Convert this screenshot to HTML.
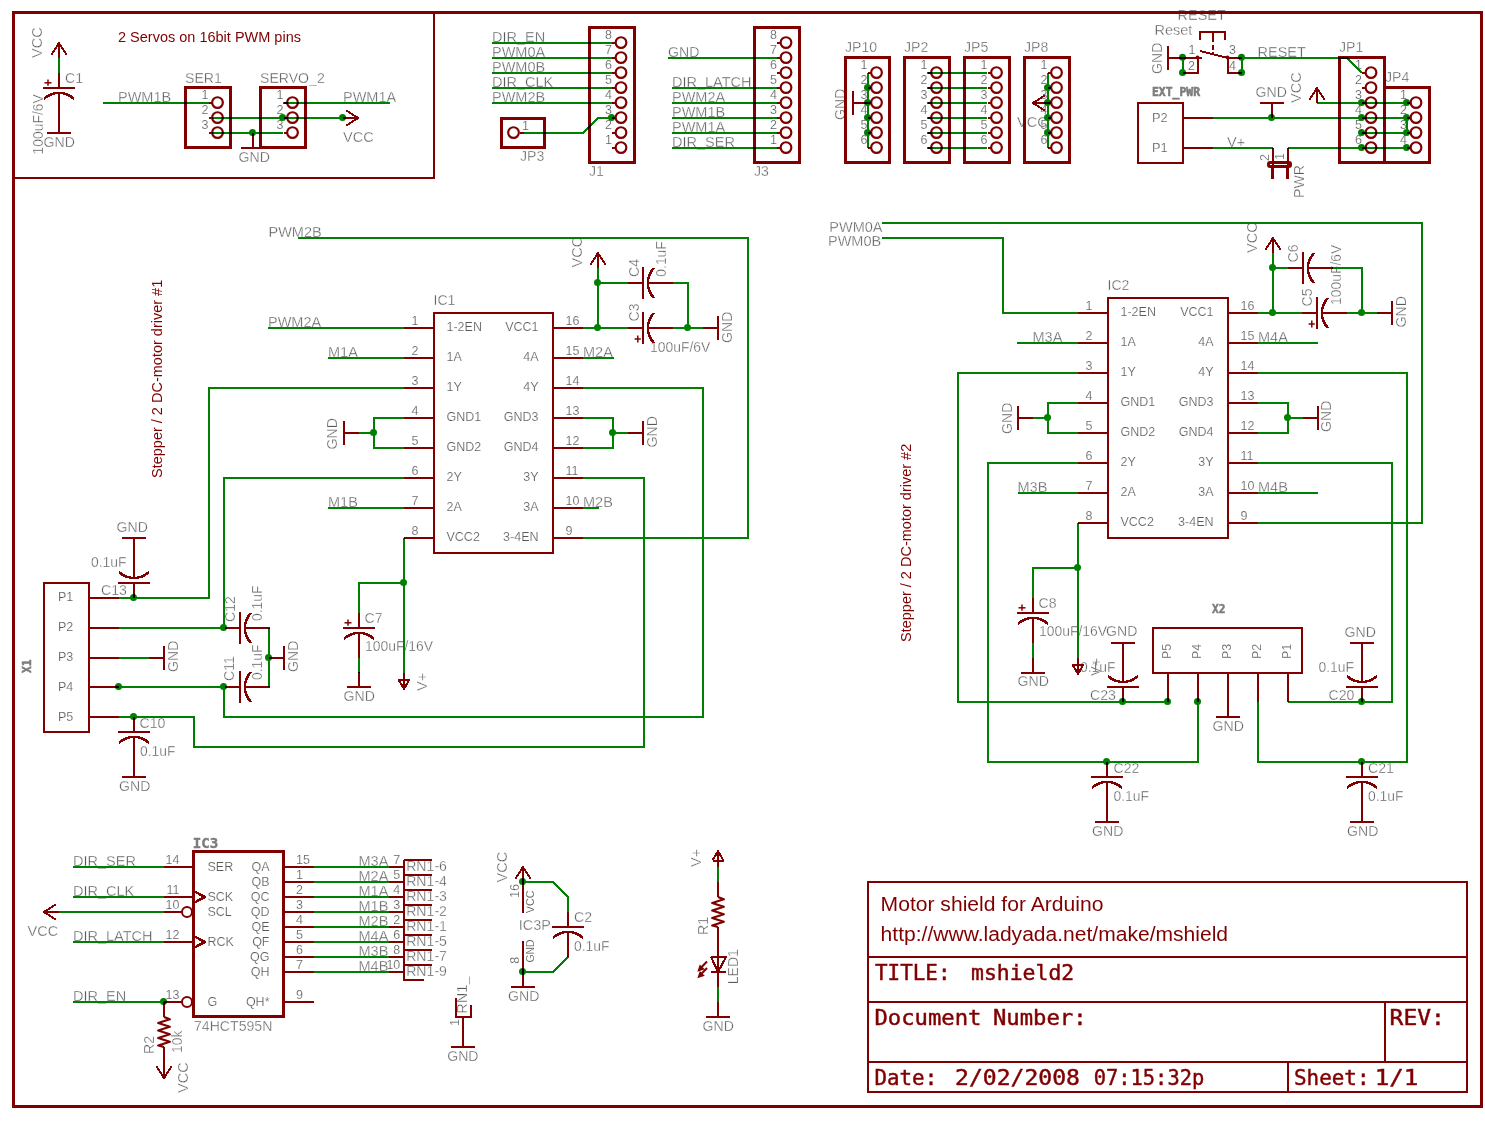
<!DOCTYPE html>
<html><head><meta charset="utf-8"><title>mshield2 schematic</title>
<style>html,body{margin:0;padding:0;background:#fff}svg{display:block}svg polyline,svg circle,svg path,svg polygon,svg text,svg g,svg .b{mix-blend-mode:darken}</style></head>
<body><svg width="1485" height="1121" viewBox="0 0 1485 1121">
<rect width="1485" height="1121" fill="#fff"/>
<rect x="13.5" y="12.5" width="1468" height="1094" stroke="#800000" stroke-width="3" fill="none" shape-rendering="crispEdges" class="b"/>
<polyline points="434,12 434,178 14,178" stroke="#800000" stroke-width="2" fill="none" stroke-linejoin="round" shape-rendering="crispEdges" />
<g transform="translate(59 58) rotate(0)">
<polyline points="0,0 0,-15" stroke="#800000" stroke-width="2" fill="none" stroke-linejoin="round" shape-rendering="crispEdges" />
<polyline points="-7.7,-3.2 0,-15 7.7,-3.2" stroke="#800000" stroke-width="2" fill="none" stroke-linejoin="round" shape-rendering="crispEdges" />
</g>
<polyline points="59,58 59,73" stroke="#008000" stroke-width="2" fill="none" stroke-linejoin="round" shape-rendering="crispEdges" />
<g transform="translate(59 88) rotate(0)">
<polyline points="0,-15 0,0" stroke="#800000" stroke-width="2" fill="none" stroke-linejoin="round" shape-rendering="crispEdges" />
<polyline points="-16,0 16,0" stroke="#800000" stroke-width="2" fill="none" stroke-linejoin="round" shape-rendering="crispEdges" />
<polyline points="0,5 0,30" stroke="#800000" stroke-width="2" fill="none" stroke-linejoin="round" shape-rendering="crispEdges" />
<path d="M-15,11 A21.75,21.75 0 0 1 15,11" stroke="#800000" stroke-width="2.4" fill="none" shape-rendering="crispEdges"/>
<polyline points="-14.5,-5.2 -7.5,-5.2" stroke="#800000" stroke-width="1.5" fill="none" stroke-linejoin="round" />
<polyline points="-11,-8.4 -11,-2.2" stroke="#800000" stroke-width="1.5" fill="none" stroke-linejoin="round" />
</g>
<g transform="translate(59 118) rotate(0)">
<polyline points="0,0 0,15" stroke="#800000" stroke-width="2" fill="none" stroke-linejoin="round" shape-rendering="crispEdges" />
<polyline points="-12,15 12,15" stroke="#800000" stroke-width="2" fill="none" stroke-linejoin="round" shape-rendering="crispEdges" />
</g>
<text x="42" y="58" font-family="Liberation Sans, Arial, sans-serif" font-size="14.5" fill="#585858" text-anchor="start" font-weight="normal" transform="rotate(-90 42 58)" stroke="#fff" stroke-width="0.35">VCC</text>
<text x="65" y="82.5" font-family="Liberation Sans, Arial, sans-serif" font-size="14.1" fill="#585858" text-anchor="start" font-weight="normal" stroke="#fff" stroke-width="0.35">C1</text>
<text x="42.5" y="154.5" font-family="Liberation Sans, Arial, sans-serif" font-size="13.9" fill="#585858" text-anchor="start" font-weight="normal" transform="rotate(-90 42.5 154.5)" stroke="#fff" stroke-width="0.35">100uF/6V</text>
<text x="43.5" y="146.5" font-family="Liberation Sans, Arial, sans-serif" font-size="14.1" fill="#585858" text-anchor="start" font-weight="normal" stroke="#fff" stroke-width="0.35">GND</text>
<text x="118" y="42" font-family="Liberation Sans, Arial, sans-serif" font-size="14.5" fill="#800000" text-anchor="start" font-weight="normal">2 Servos on 16bit PWM pins</text>
<polyline points="103,103 209,103" stroke="#008000" stroke-width="2" fill="none" stroke-linejoin="round" shape-rendering="crispEdges" />
<polyline points="283,103 390,103" stroke="#008000" stroke-width="2" fill="none" stroke-linejoin="round" shape-rendering="crispEdges" />
<polyline points="212,118 343,118" stroke="#008000" stroke-width="2" fill="none" stroke-linejoin="round" shape-rendering="crispEdges" />
<polyline points="212,133 283,133" stroke="#008000" stroke-width="2" fill="none" stroke-linejoin="round" shape-rendering="crispEdges" />
<rect x="185.5" y="87.5" width="45" height="60" stroke="#800000" stroke-width="3" fill="none" shape-rendering="crispEdges" class="b"/>
<circle cx="217.5" cy="102.6" r="5.35" stroke="#800000" stroke-width="2.2" fill="none"/>
<polyline points="209,103 212,103" stroke="#800000" stroke-width="2" fill="none" stroke-linejoin="round" shape-rendering="crispEdges" />
<text x="208.5" y="99.3" font-family="Liberation Sans, Arial, sans-serif" font-size="12.5" fill="#585858" text-anchor="end" font-weight="normal" stroke="#fff" stroke-width="0.2">1</text>
<circle cx="217.5" cy="117.6" r="5.35" stroke="#800000" stroke-width="2.2" fill="none"/>
<polyline points="209,118 212,118" stroke="#800000" stroke-width="2" fill="none" stroke-linejoin="round" shape-rendering="crispEdges" />
<text x="208.5" y="114.3" font-family="Liberation Sans, Arial, sans-serif" font-size="12.5" fill="#585858" text-anchor="end" font-weight="normal" stroke="#fff" stroke-width="0.2">2</text>
<circle cx="217.5" cy="132.6" r="5.35" stroke="#800000" stroke-width="2.2" fill="none"/>
<polyline points="209,133 212,133" stroke="#800000" stroke-width="2" fill="none" stroke-linejoin="round" shape-rendering="crispEdges" />
<text x="208.5" y="129.3" font-family="Liberation Sans, Arial, sans-serif" font-size="12.5" fill="#585858" text-anchor="end" font-weight="normal" stroke="#fff" stroke-width="0.2">3</text>
<rect x="260.5" y="87.5" width="45" height="60" stroke="#800000" stroke-width="3" fill="none" shape-rendering="crispEdges" class="b"/>
<circle cx="292.5" cy="102.6" r="5.35" stroke="#800000" stroke-width="2.2" fill="none"/>
<polyline points="284,103 287,103" stroke="#800000" stroke-width="2" fill="none" stroke-linejoin="round" shape-rendering="crispEdges" />
<text x="283.5" y="99.3" font-family="Liberation Sans, Arial, sans-serif" font-size="12.5" fill="#585858" text-anchor="end" font-weight="normal" stroke="#fff" stroke-width="0.2">1</text>
<circle cx="292.5" cy="117.6" r="5.35" stroke="#800000" stroke-width="2.2" fill="none"/>
<polyline points="284,118 287,118" stroke="#800000" stroke-width="2" fill="none" stroke-linejoin="round" shape-rendering="crispEdges" />
<text x="283.5" y="114.3" font-family="Liberation Sans, Arial, sans-serif" font-size="12.5" fill="#585858" text-anchor="end" font-weight="normal" stroke="#fff" stroke-width="0.2">2</text>
<circle cx="292.5" cy="132.6" r="5.35" stroke="#800000" stroke-width="2.2" fill="none"/>
<polyline points="284,133 287,133" stroke="#800000" stroke-width="2" fill="none" stroke-linejoin="round" shape-rendering="crispEdges" />
<text x="283.5" y="129.3" font-family="Liberation Sans, Arial, sans-serif" font-size="12.5" fill="#585858" text-anchor="end" font-weight="normal" stroke="#fff" stroke-width="0.2">3</text>
<circle cx="282.5" cy="117.5" r="3.5" fill="#008000"/>
<circle cx="342.5" cy="117.5" r="3.5" fill="#008000"/>
<circle cx="252.5" cy="132.5" r="3.5" fill="#008000"/>
<g transform="translate(343 118) rotate(90)">
<polyline points="0,0 0,-15" stroke="#800000" stroke-width="2" fill="none" stroke-linejoin="round" shape-rendering="crispEdges" />
<polyline points="-7.7,-3.2 0,-15 7.7,-3.2" stroke="#800000" stroke-width="2" fill="none" stroke-linejoin="round" shape-rendering="crispEdges" />
</g>
<g transform="translate(253 133) rotate(0)">
<polyline points="0,0 0,15" stroke="#800000" stroke-width="2" fill="none" stroke-linejoin="round" shape-rendering="crispEdges" />
<polyline points="-12,15 12,15" stroke="#800000" stroke-width="2" fill="none" stroke-linejoin="round" shape-rendering="crispEdges" />
</g>
<text x="118" y="101.5" font-family="Liberation Sans, Arial, sans-serif" font-size="14.5" fill="#585858" text-anchor="start" font-weight="normal" stroke="#fff" stroke-width="0.35">PWM1B</text>
<text x="343" y="101.5" font-family="Liberation Sans, Arial, sans-serif" font-size="14.5" fill="#585858" text-anchor="start" font-weight="normal" stroke="#fff" stroke-width="0.35">PWM1A</text>
<text x="185" y="83" font-family="Liberation Sans, Arial, sans-serif" font-size="14.1" fill="#585858" text-anchor="start" font-weight="normal" stroke="#fff" stroke-width="0.35">SER1</text>
<text x="260" y="83" font-family="Liberation Sans, Arial, sans-serif" font-size="14.1" fill="#585858" text-anchor="start" font-weight="normal" stroke="#fff" stroke-width="0.35">SERVO_2</text>
<text x="343" y="142" font-family="Liberation Sans, Arial, sans-serif" font-size="14.5" fill="#585858" text-anchor="start" font-weight="normal" stroke="#fff" stroke-width="0.35">VCC</text>
<text x="238.5" y="162" font-family="Liberation Sans, Arial, sans-serif" font-size="14.1" fill="#585858" text-anchor="start" font-weight="normal" stroke="#fff" stroke-width="0.35">GND</text>
<polyline points="492,43 612,43" stroke="#008000" stroke-width="2" fill="none" stroke-linejoin="round" shape-rendering="crispEdges" />
<text x="492" y="42" font-family="Liberation Sans, Arial, sans-serif" font-size="14.5" fill="#585858" text-anchor="start" font-weight="normal" stroke="#fff" stroke-width="0.35">DIR_EN</text>
<polyline points="492,58 612,58" stroke="#008000" stroke-width="2" fill="none" stroke-linejoin="round" shape-rendering="crispEdges" />
<text x="492" y="57" font-family="Liberation Sans, Arial, sans-serif" font-size="14.5" fill="#585858" text-anchor="start" font-weight="normal" stroke="#fff" stroke-width="0.35">PWM0A</text>
<polyline points="492,73 612,73" stroke="#008000" stroke-width="2" fill="none" stroke-linejoin="round" shape-rendering="crispEdges" />
<text x="492" y="72" font-family="Liberation Sans, Arial, sans-serif" font-size="14.5" fill="#585858" text-anchor="start" font-weight="normal" stroke="#fff" stroke-width="0.35">PWM0B</text>
<polyline points="492,88 612,88" stroke="#008000" stroke-width="2" fill="none" stroke-linejoin="round" shape-rendering="crispEdges" />
<text x="492" y="87" font-family="Liberation Sans, Arial, sans-serif" font-size="14.5" fill="#585858" text-anchor="start" font-weight="normal" stroke="#fff" stroke-width="0.35">DIR_CLK</text>
<polyline points="492,103 612,103" stroke="#008000" stroke-width="2" fill="none" stroke-linejoin="round" shape-rendering="crispEdges" />
<text x="492" y="102" font-family="Liberation Sans, Arial, sans-serif" font-size="14.5" fill="#585858" text-anchor="start" font-weight="normal" stroke="#fff" stroke-width="0.35">PWM2B</text>
<polyline points="524,133 583,133 598,118 612,118" stroke="#008000" stroke-width="2" fill="none" stroke-linejoin="round" shape-rendering="crispEdges" />
<circle cx="611.5" cy="117.5" r="3.5" fill="#008000"/>
<rect x="589.5" y="27.5" width="45" height="135" stroke="#800000" stroke-width="3" fill="none" shape-rendering="crispEdges" class="b"/>
<circle cx="621" cy="42.6" r="5.35" stroke="#800000" stroke-width="2.2" fill="none"/>
<polyline points="612,43 616,43" stroke="#800000" stroke-width="2" fill="none" stroke-linejoin="round" shape-rendering="crispEdges" />
<text x="612" y="39.3" font-family="Liberation Sans, Arial, sans-serif" font-size="12.5" fill="#585858" text-anchor="end" font-weight="normal" stroke="#fff" stroke-width="0.2">8</text>
<circle cx="621" cy="57.6" r="5.35" stroke="#800000" stroke-width="2.2" fill="none"/>
<polyline points="612,58 616,58" stroke="#800000" stroke-width="2" fill="none" stroke-linejoin="round" shape-rendering="crispEdges" />
<text x="612" y="54.3" font-family="Liberation Sans, Arial, sans-serif" font-size="12.5" fill="#585858" text-anchor="end" font-weight="normal" stroke="#fff" stroke-width="0.2">7</text>
<circle cx="621" cy="72.6" r="5.35" stroke="#800000" stroke-width="2.2" fill="none"/>
<polyline points="612,73 616,73" stroke="#800000" stroke-width="2" fill="none" stroke-linejoin="round" shape-rendering="crispEdges" />
<text x="612" y="69.3" font-family="Liberation Sans, Arial, sans-serif" font-size="12.5" fill="#585858" text-anchor="end" font-weight="normal" stroke="#fff" stroke-width="0.2">6</text>
<circle cx="621" cy="87.6" r="5.35" stroke="#800000" stroke-width="2.2" fill="none"/>
<polyline points="612,88 616,88" stroke="#800000" stroke-width="2" fill="none" stroke-linejoin="round" shape-rendering="crispEdges" />
<text x="612" y="84.3" font-family="Liberation Sans, Arial, sans-serif" font-size="12.5" fill="#585858" text-anchor="end" font-weight="normal" stroke="#fff" stroke-width="0.2">5</text>
<circle cx="621" cy="102.6" r="5.35" stroke="#800000" stroke-width="2.2" fill="none"/>
<polyline points="612,103 616,103" stroke="#800000" stroke-width="2" fill="none" stroke-linejoin="round" shape-rendering="crispEdges" />
<text x="612" y="99.3" font-family="Liberation Sans, Arial, sans-serif" font-size="12.5" fill="#585858" text-anchor="end" font-weight="normal" stroke="#fff" stroke-width="0.2">4</text>
<circle cx="621" cy="117.6" r="5.35" stroke="#800000" stroke-width="2.2" fill="none"/>
<polyline points="612,118 616,118" stroke="#800000" stroke-width="2" fill="none" stroke-linejoin="round" shape-rendering="crispEdges" />
<text x="612" y="114.3" font-family="Liberation Sans, Arial, sans-serif" font-size="12.5" fill="#585858" text-anchor="end" font-weight="normal" stroke="#fff" stroke-width="0.2">3</text>
<circle cx="621" cy="132.6" r="5.35" stroke="#800000" stroke-width="2.2" fill="none"/>
<polyline points="612,133 616,133" stroke="#800000" stroke-width="2" fill="none" stroke-linejoin="round" shape-rendering="crispEdges" />
<text x="612" y="129.3" font-family="Liberation Sans, Arial, sans-serif" font-size="12.5" fill="#585858" text-anchor="end" font-weight="normal" stroke="#fff" stroke-width="0.2">2</text>
<circle cx="621" cy="147.6" r="5.35" stroke="#800000" stroke-width="2.2" fill="none"/>
<polyline points="612,148 616,148" stroke="#800000" stroke-width="2" fill="none" stroke-linejoin="round" shape-rendering="crispEdges" />
<text x="612" y="144.3" font-family="Liberation Sans, Arial, sans-serif" font-size="12.5" fill="#585858" text-anchor="end" font-weight="normal" stroke="#fff" stroke-width="0.2">1</text>
<text x="589" y="175.5" font-family="Liberation Sans, Arial, sans-serif" font-size="14.1" fill="#585858" text-anchor="start" font-weight="normal" stroke="#fff" stroke-width="0.35">J1</text>
<rect x="501.5" y="118.5" width="43" height="29" stroke="#800000" stroke-width="3" fill="none" shape-rendering="crispEdges" class="b"/>
<circle cx="513.5" cy="132.6" r="5.35" stroke="#800000" stroke-width="2.2" fill="none"/>
<polyline points="520,133 524,133" stroke="#800000" stroke-width="2" fill="none" stroke-linejoin="round" shape-rendering="crispEdges" />
<text x="522" y="129.5" font-family="Liberation Sans, Arial, sans-serif" font-size="12.5" fill="#585858" text-anchor="start" font-weight="normal" stroke="#fff" stroke-width="0.2">1</text>
<text x="520" y="160.5" font-family="Liberation Sans, Arial, sans-serif" font-size="14.1" fill="#585858" text-anchor="start" font-weight="normal" stroke="#fff" stroke-width="0.35">JP3</text>
<polyline points="668,58 777,58" stroke="#008000" stroke-width="2" fill="none" stroke-linejoin="round" shape-rendering="crispEdges" />
<text x="668" y="57" font-family="Liberation Sans, Arial, sans-serif" font-size="14.1" fill="#585858" text-anchor="start" font-weight="normal" stroke="#fff" stroke-width="0.35">GND</text>
<polyline points="672,88 777,88" stroke="#008000" stroke-width="2" fill="none" stroke-linejoin="round" shape-rendering="crispEdges" />
<text x="672" y="87" font-family="Liberation Sans, Arial, sans-serif" font-size="14.5" fill="#585858" text-anchor="start" font-weight="normal" stroke="#fff" stroke-width="0.35">DIR_LATCH</text>
<polyline points="672,103 777,103" stroke="#008000" stroke-width="2" fill="none" stroke-linejoin="round" shape-rendering="crispEdges" />
<text x="672" y="102" font-family="Liberation Sans, Arial, sans-serif" font-size="14.5" fill="#585858" text-anchor="start" font-weight="normal" stroke="#fff" stroke-width="0.35">PWM2A</text>
<polyline points="672,118 777,118" stroke="#008000" stroke-width="2" fill="none" stroke-linejoin="round" shape-rendering="crispEdges" />
<text x="672" y="117" font-family="Liberation Sans, Arial, sans-serif" font-size="14.5" fill="#585858" text-anchor="start" font-weight="normal" stroke="#fff" stroke-width="0.35">PWM1B</text>
<polyline points="672,133 777,133" stroke="#008000" stroke-width="2" fill="none" stroke-linejoin="round" shape-rendering="crispEdges" />
<text x="672" y="132" font-family="Liberation Sans, Arial, sans-serif" font-size="14.5" fill="#585858" text-anchor="start" font-weight="normal" stroke="#fff" stroke-width="0.35">PWM1A</text>
<polyline points="672,148 777,148" stroke="#008000" stroke-width="2" fill="none" stroke-linejoin="round" shape-rendering="crispEdges" />
<text x="672" y="147" font-family="Liberation Sans, Arial, sans-serif" font-size="14.5" fill="#585858" text-anchor="start" font-weight="normal" stroke="#fff" stroke-width="0.35">DIR_SER</text>
<rect x="754.5" y="27.5" width="45" height="135" stroke="#800000" stroke-width="3" fill="none" shape-rendering="crispEdges" class="b"/>
<circle cx="786" cy="42.6" r="5.35" stroke="#800000" stroke-width="2.2" fill="none"/>
<polyline points="777,43 781,43" stroke="#800000" stroke-width="2" fill="none" stroke-linejoin="round" shape-rendering="crispEdges" />
<text x="777" y="39.3" font-family="Liberation Sans, Arial, sans-serif" font-size="12.5" fill="#585858" text-anchor="end" font-weight="normal" stroke="#fff" stroke-width="0.2">8</text>
<circle cx="786" cy="57.6" r="5.35" stroke="#800000" stroke-width="2.2" fill="none"/>
<polyline points="777,58 781,58" stroke="#800000" stroke-width="2" fill="none" stroke-linejoin="round" shape-rendering="crispEdges" />
<text x="777" y="54.3" font-family="Liberation Sans, Arial, sans-serif" font-size="12.5" fill="#585858" text-anchor="end" font-weight="normal" stroke="#fff" stroke-width="0.2">7</text>
<circle cx="786" cy="72.6" r="5.35" stroke="#800000" stroke-width="2.2" fill="none"/>
<polyline points="777,73 781,73" stroke="#800000" stroke-width="2" fill="none" stroke-linejoin="round" shape-rendering="crispEdges" />
<text x="777" y="69.3" font-family="Liberation Sans, Arial, sans-serif" font-size="12.5" fill="#585858" text-anchor="end" font-weight="normal" stroke="#fff" stroke-width="0.2">6</text>
<circle cx="786" cy="87.6" r="5.35" stroke="#800000" stroke-width="2.2" fill="none"/>
<polyline points="777,88 781,88" stroke="#800000" stroke-width="2" fill="none" stroke-linejoin="round" shape-rendering="crispEdges" />
<text x="777" y="84.3" font-family="Liberation Sans, Arial, sans-serif" font-size="12.5" fill="#585858" text-anchor="end" font-weight="normal" stroke="#fff" stroke-width="0.2">5</text>
<circle cx="786" cy="102.6" r="5.35" stroke="#800000" stroke-width="2.2" fill="none"/>
<polyline points="777,103 781,103" stroke="#800000" stroke-width="2" fill="none" stroke-linejoin="round" shape-rendering="crispEdges" />
<text x="777" y="99.3" font-family="Liberation Sans, Arial, sans-serif" font-size="12.5" fill="#585858" text-anchor="end" font-weight="normal" stroke="#fff" stroke-width="0.2">4</text>
<circle cx="786" cy="117.6" r="5.35" stroke="#800000" stroke-width="2.2" fill="none"/>
<polyline points="777,118 781,118" stroke="#800000" stroke-width="2" fill="none" stroke-linejoin="round" shape-rendering="crispEdges" />
<text x="777" y="114.3" font-family="Liberation Sans, Arial, sans-serif" font-size="12.5" fill="#585858" text-anchor="end" font-weight="normal" stroke="#fff" stroke-width="0.2">3</text>
<circle cx="786" cy="132.6" r="5.35" stroke="#800000" stroke-width="2.2" fill="none"/>
<polyline points="777,133 781,133" stroke="#800000" stroke-width="2" fill="none" stroke-linejoin="round" shape-rendering="crispEdges" />
<text x="777" y="129.3" font-family="Liberation Sans, Arial, sans-serif" font-size="12.5" fill="#585858" text-anchor="end" font-weight="normal" stroke="#fff" stroke-width="0.2">2</text>
<circle cx="786" cy="147.6" r="5.35" stroke="#800000" stroke-width="2.2" fill="none"/>
<polyline points="777,148 781,148" stroke="#800000" stroke-width="2" fill="none" stroke-linejoin="round" shape-rendering="crispEdges" />
<text x="777" y="144.3" font-family="Liberation Sans, Arial, sans-serif" font-size="12.5" fill="#585858" text-anchor="end" font-weight="normal" stroke="#fff" stroke-width="0.2">1</text>
<text x="754" y="175.5" font-family="Liberation Sans, Arial, sans-serif" font-size="14.1" fill="#585858" text-anchor="start" font-weight="normal" stroke="#fff" stroke-width="0.35">J3</text>
<polyline points="868,73 868,148" stroke="#008000" stroke-width="2" fill="none" stroke-linejoin="round" shape-rendering="crispEdges" />
<circle cx="867.5" cy="87.5" r="3.5" fill="#008000"/>
<circle cx="867.5" cy="102.5" r="3.5" fill="#008000"/>
<circle cx="867.5" cy="117.5" r="3.5" fill="#008000"/>
<circle cx="867.5" cy="132.5" r="3.5" fill="#008000"/>
<g transform="translate(868 103) rotate(90)">
<polyline points="0,0 0,15" stroke="#800000" stroke-width="2" fill="none" stroke-linejoin="round" shape-rendering="crispEdges" />
<polyline points="-12,15 12,15" stroke="#800000" stroke-width="2" fill="none" stroke-linejoin="round" shape-rendering="crispEdges" />
</g>
<text x="845" y="120" font-family="Liberation Sans, Arial, sans-serif" font-size="14.1" fill="#585858" text-anchor="start" font-weight="normal" transform="rotate(-90 845 120)" stroke="#fff" stroke-width="0.35">GND</text>
<rect x="845.5" y="57.5" width="44" height="105" stroke="#800000" stroke-width="3" fill="none" shape-rendering="crispEdges" class="b"/>
<circle cx="876.5" cy="72.6" r="5.35" stroke="#800000" stroke-width="2.2" fill="none"/>
<polyline points="868,73 871,73" stroke="#800000" stroke-width="2" fill="none" stroke-linejoin="round" shape-rendering="crispEdges" />
<text x="867.5" y="69.3" font-family="Liberation Sans, Arial, sans-serif" font-size="12.5" fill="#585858" text-anchor="end" font-weight="normal" stroke="#fff" stroke-width="0.2">1</text>
<circle cx="876.5" cy="87.6" r="5.35" stroke="#800000" stroke-width="2.2" fill="none"/>
<polyline points="868,88 871,88" stroke="#800000" stroke-width="2" fill="none" stroke-linejoin="round" shape-rendering="crispEdges" />
<text x="867.5" y="84.3" font-family="Liberation Sans, Arial, sans-serif" font-size="12.5" fill="#585858" text-anchor="end" font-weight="normal" stroke="#fff" stroke-width="0.2">2</text>
<circle cx="876.5" cy="102.6" r="5.35" stroke="#800000" stroke-width="2.2" fill="none"/>
<polyline points="868,103 871,103" stroke="#800000" stroke-width="2" fill="none" stroke-linejoin="round" shape-rendering="crispEdges" />
<text x="867.5" y="99.3" font-family="Liberation Sans, Arial, sans-serif" font-size="12.5" fill="#585858" text-anchor="end" font-weight="normal" stroke="#fff" stroke-width="0.2">3</text>
<circle cx="876.5" cy="117.6" r="5.35" stroke="#800000" stroke-width="2.2" fill="none"/>
<polyline points="868,118 871,118" stroke="#800000" stroke-width="2" fill="none" stroke-linejoin="round" shape-rendering="crispEdges" />
<text x="867.5" y="114.3" font-family="Liberation Sans, Arial, sans-serif" font-size="12.5" fill="#585858" text-anchor="end" font-weight="normal" stroke="#fff" stroke-width="0.2">4</text>
<circle cx="876.5" cy="132.6" r="5.35" stroke="#800000" stroke-width="2.2" fill="none"/>
<polyline points="868,133 871,133" stroke="#800000" stroke-width="2" fill="none" stroke-linejoin="round" shape-rendering="crispEdges" />
<text x="867.5" y="129.3" font-family="Liberation Sans, Arial, sans-serif" font-size="12.5" fill="#585858" text-anchor="end" font-weight="normal" stroke="#fff" stroke-width="0.2">5</text>
<circle cx="876.5" cy="147.6" r="5.35" stroke="#800000" stroke-width="2.2" fill="none"/>
<polyline points="868,148 871,148" stroke="#800000" stroke-width="2" fill="none" stroke-linejoin="round" shape-rendering="crispEdges" />
<text x="867.5" y="144.3" font-family="Liberation Sans, Arial, sans-serif" font-size="12.5" fill="#585858" text-anchor="end" font-weight="normal" stroke="#fff" stroke-width="0.2">6</text>
<text x="845" y="52" font-family="Liberation Sans, Arial, sans-serif" font-size="14.1" fill="#585858" text-anchor="start" font-weight="normal" stroke="#fff" stroke-width="0.35">JP10</text>
<polyline points="927,73 987,73" stroke="#008000" stroke-width="2" fill="none" stroke-linejoin="round" shape-rendering="crispEdges" />
<polyline points="927,88 987,88" stroke="#008000" stroke-width="2" fill="none" stroke-linejoin="round" shape-rendering="crispEdges" />
<polyline points="927,103 987,103" stroke="#008000" stroke-width="2" fill="none" stroke-linejoin="round" shape-rendering="crispEdges" />
<polyline points="927,118 987,118" stroke="#008000" stroke-width="2" fill="none" stroke-linejoin="round" shape-rendering="crispEdges" />
<polyline points="927,133 987,133" stroke="#008000" stroke-width="2" fill="none" stroke-linejoin="round" shape-rendering="crispEdges" />
<polyline points="927,148 987,148" stroke="#008000" stroke-width="2" fill="none" stroke-linejoin="round" shape-rendering="crispEdges" />
<rect x="904.5" y="57.5" width="45" height="105" stroke="#800000" stroke-width="3" fill="none" shape-rendering="crispEdges" class="b"/>
<circle cx="936.5" cy="72.6" r="5.35" stroke="#800000" stroke-width="2.2" fill="none"/>
<polyline points="928,73 931,73" stroke="#800000" stroke-width="2" fill="none" stroke-linejoin="round" shape-rendering="crispEdges" />
<text x="927.5" y="69.3" font-family="Liberation Sans, Arial, sans-serif" font-size="12.5" fill="#585858" text-anchor="end" font-weight="normal" stroke="#fff" stroke-width="0.2">1</text>
<circle cx="936.5" cy="87.6" r="5.35" stroke="#800000" stroke-width="2.2" fill="none"/>
<polyline points="928,88 931,88" stroke="#800000" stroke-width="2" fill="none" stroke-linejoin="round" shape-rendering="crispEdges" />
<text x="927.5" y="84.3" font-family="Liberation Sans, Arial, sans-serif" font-size="12.5" fill="#585858" text-anchor="end" font-weight="normal" stroke="#fff" stroke-width="0.2">2</text>
<circle cx="936.5" cy="102.6" r="5.35" stroke="#800000" stroke-width="2.2" fill="none"/>
<polyline points="928,103 931,103" stroke="#800000" stroke-width="2" fill="none" stroke-linejoin="round" shape-rendering="crispEdges" />
<text x="927.5" y="99.3" font-family="Liberation Sans, Arial, sans-serif" font-size="12.5" fill="#585858" text-anchor="end" font-weight="normal" stroke="#fff" stroke-width="0.2">3</text>
<circle cx="936.5" cy="117.6" r="5.35" stroke="#800000" stroke-width="2.2" fill="none"/>
<polyline points="928,118 931,118" stroke="#800000" stroke-width="2" fill="none" stroke-linejoin="round" shape-rendering="crispEdges" />
<text x="927.5" y="114.3" font-family="Liberation Sans, Arial, sans-serif" font-size="12.5" fill="#585858" text-anchor="end" font-weight="normal" stroke="#fff" stroke-width="0.2">4</text>
<circle cx="936.5" cy="132.6" r="5.35" stroke="#800000" stroke-width="2.2" fill="none"/>
<polyline points="928,133 931,133" stroke="#800000" stroke-width="2" fill="none" stroke-linejoin="round" shape-rendering="crispEdges" />
<text x="927.5" y="129.3" font-family="Liberation Sans, Arial, sans-serif" font-size="12.5" fill="#585858" text-anchor="end" font-weight="normal" stroke="#fff" stroke-width="0.2">5</text>
<circle cx="936.5" cy="147.6" r="5.35" stroke="#800000" stroke-width="2.2" fill="none"/>
<polyline points="928,148 931,148" stroke="#800000" stroke-width="2" fill="none" stroke-linejoin="round" shape-rendering="crispEdges" />
<text x="927.5" y="144.3" font-family="Liberation Sans, Arial, sans-serif" font-size="12.5" fill="#585858" text-anchor="end" font-weight="normal" stroke="#fff" stroke-width="0.2">6</text>
<rect x="964.5" y="57.5" width="45" height="105" stroke="#800000" stroke-width="3" fill="none" shape-rendering="crispEdges" class="b"/>
<circle cx="996.5" cy="72.6" r="5.35" stroke="#800000" stroke-width="2.2" fill="none"/>
<polyline points="988,73 991,73" stroke="#800000" stroke-width="2" fill="none" stroke-linejoin="round" shape-rendering="crispEdges" />
<text x="987.5" y="69.3" font-family="Liberation Sans, Arial, sans-serif" font-size="12.5" fill="#585858" text-anchor="end" font-weight="normal" stroke="#fff" stroke-width="0.2">1</text>
<circle cx="996.5" cy="87.6" r="5.35" stroke="#800000" stroke-width="2.2" fill="none"/>
<polyline points="988,88 991,88" stroke="#800000" stroke-width="2" fill="none" stroke-linejoin="round" shape-rendering="crispEdges" />
<text x="987.5" y="84.3" font-family="Liberation Sans, Arial, sans-serif" font-size="12.5" fill="#585858" text-anchor="end" font-weight="normal" stroke="#fff" stroke-width="0.2">2</text>
<circle cx="996.5" cy="102.6" r="5.35" stroke="#800000" stroke-width="2.2" fill="none"/>
<polyline points="988,103 991,103" stroke="#800000" stroke-width="2" fill="none" stroke-linejoin="round" shape-rendering="crispEdges" />
<text x="987.5" y="99.3" font-family="Liberation Sans, Arial, sans-serif" font-size="12.5" fill="#585858" text-anchor="end" font-weight="normal" stroke="#fff" stroke-width="0.2">3</text>
<circle cx="996.5" cy="117.6" r="5.35" stroke="#800000" stroke-width="2.2" fill="none"/>
<polyline points="988,118 991,118" stroke="#800000" stroke-width="2" fill="none" stroke-linejoin="round" shape-rendering="crispEdges" />
<text x="987.5" y="114.3" font-family="Liberation Sans, Arial, sans-serif" font-size="12.5" fill="#585858" text-anchor="end" font-weight="normal" stroke="#fff" stroke-width="0.2">4</text>
<circle cx="996.5" cy="132.6" r="5.35" stroke="#800000" stroke-width="2.2" fill="none"/>
<polyline points="988,133 991,133" stroke="#800000" stroke-width="2" fill="none" stroke-linejoin="round" shape-rendering="crispEdges" />
<text x="987.5" y="129.3" font-family="Liberation Sans, Arial, sans-serif" font-size="12.5" fill="#585858" text-anchor="end" font-weight="normal" stroke="#fff" stroke-width="0.2">5</text>
<circle cx="996.5" cy="147.6" r="5.35" stroke="#800000" stroke-width="2.2" fill="none"/>
<polyline points="988,148 991,148" stroke="#800000" stroke-width="2" fill="none" stroke-linejoin="round" shape-rendering="crispEdges" />
<text x="987.5" y="144.3" font-family="Liberation Sans, Arial, sans-serif" font-size="12.5" fill="#585858" text-anchor="end" font-weight="normal" stroke="#fff" stroke-width="0.2">6</text>
<text x="904" y="52" font-family="Liberation Sans, Arial, sans-serif" font-size="14.1" fill="#585858" text-anchor="start" font-weight="normal" stroke="#fff" stroke-width="0.35">JP2</text>
<text x="964" y="52" font-family="Liberation Sans, Arial, sans-serif" font-size="14.1" fill="#585858" text-anchor="start" font-weight="normal" stroke="#fff" stroke-width="0.35">JP5</text>
<text x="1024" y="52" font-family="Liberation Sans, Arial, sans-serif" font-size="14.1" fill="#585858" text-anchor="start" font-weight="normal" stroke="#fff" stroke-width="0.35">JP8</text>
<polyline points="1048,73 1048,148" stroke="#008000" stroke-width="2" fill="none" stroke-linejoin="round" shape-rendering="crispEdges" />
<circle cx="1047.5" cy="87.5" r="3.5" fill="#008000"/>
<circle cx="1047.5" cy="102.5" r="3.5" fill="#008000"/>
<circle cx="1047.5" cy="117.5" r="3.5" fill="#008000"/>
<circle cx="1047.5" cy="132.5" r="3.5" fill="#008000"/>
<g transform="translate(1048 103) rotate(-90)">
<polyline points="0,0 0,-15" stroke="#800000" stroke-width="2" fill="none" stroke-linejoin="round" shape-rendering="crispEdges" />
<polyline points="-7.7,-3.2 0,-15 7.7,-3.2" stroke="#800000" stroke-width="2" fill="none" stroke-linejoin="round" shape-rendering="crispEdges" />
</g>
<rect x="1024.5" y="57.5" width="45" height="105" stroke="#800000" stroke-width="3" fill="none" shape-rendering="crispEdges" class="b"/>
<circle cx="1056.5" cy="72.6" r="5.35" stroke="#800000" stroke-width="2.2" fill="none"/>
<polyline points="1048,73 1051,73" stroke="#800000" stroke-width="2" fill="none" stroke-linejoin="round" shape-rendering="crispEdges" />
<text x="1047.5" y="69.3" font-family="Liberation Sans, Arial, sans-serif" font-size="12.5" fill="#585858" text-anchor="end" font-weight="normal" stroke="#fff" stroke-width="0.2">1</text>
<circle cx="1056.5" cy="87.6" r="5.35" stroke="#800000" stroke-width="2.2" fill="none"/>
<polyline points="1048,88 1051,88" stroke="#800000" stroke-width="2" fill="none" stroke-linejoin="round" shape-rendering="crispEdges" />
<text x="1047.5" y="84.3" font-family="Liberation Sans, Arial, sans-serif" font-size="12.5" fill="#585858" text-anchor="end" font-weight="normal" stroke="#fff" stroke-width="0.2">2</text>
<circle cx="1056.5" cy="102.6" r="5.35" stroke="#800000" stroke-width="2.2" fill="none"/>
<polyline points="1048,103 1051,103" stroke="#800000" stroke-width="2" fill="none" stroke-linejoin="round" shape-rendering="crispEdges" />
<text x="1047.5" y="99.3" font-family="Liberation Sans, Arial, sans-serif" font-size="12.5" fill="#585858" text-anchor="end" font-weight="normal" stroke="#fff" stroke-width="0.2">3</text>
<circle cx="1056.5" cy="117.6" r="5.35" stroke="#800000" stroke-width="2.2" fill="none"/>
<polyline points="1048,118 1051,118" stroke="#800000" stroke-width="2" fill="none" stroke-linejoin="round" shape-rendering="crispEdges" />
<text x="1047.5" y="114.3" font-family="Liberation Sans, Arial, sans-serif" font-size="12.5" fill="#585858" text-anchor="end" font-weight="normal" stroke="#fff" stroke-width="0.2">4</text>
<circle cx="1056.5" cy="132.6" r="5.35" stroke="#800000" stroke-width="2.2" fill="none"/>
<polyline points="1048,133 1051,133" stroke="#800000" stroke-width="2" fill="none" stroke-linejoin="round" shape-rendering="crispEdges" />
<text x="1047.5" y="129.3" font-family="Liberation Sans, Arial, sans-serif" font-size="12.5" fill="#585858" text-anchor="end" font-weight="normal" stroke="#fff" stroke-width="0.2">5</text>
<circle cx="1056.5" cy="147.6" r="5.35" stroke="#800000" stroke-width="2.2" fill="none"/>
<polyline points="1048,148 1051,148" stroke="#800000" stroke-width="2" fill="none" stroke-linejoin="round" shape-rendering="crispEdges" />
<text x="1047.5" y="144.3" font-family="Liberation Sans, Arial, sans-serif" font-size="12.5" fill="#585858" text-anchor="end" font-weight="normal" stroke="#fff" stroke-width="0.2">6</text>
<text x="1017" y="127" font-family="Liberation Sans, Arial, sans-serif" font-size="14.5" fill="#585858" text-anchor="start" font-weight="normal" stroke="#fff" stroke-width="0.35">VCC</text>
<text x="1177.5" y="19.5" font-family="Liberation Sans, Arial, sans-serif" font-size="14.5" fill="#585858" text-anchor="start" font-weight="normal" stroke="#fff" stroke-width="0.35">RESET</text>
<text x="1154.5" y="34.5" font-family="Liberation Sans, Arial, sans-serif" font-size="14.5" fill="#585858" text-anchor="start" font-weight="normal" stroke="#fff" stroke-width="0.35">Reset</text>
<polyline points="1200,40 1200,32 1225,32 1225,40" stroke="#800000" stroke-width="2" fill="none" stroke-linejoin="round" shape-rendering="crispEdges" />
<polyline points="1213,32 1213,54" stroke="#800000" stroke-width="2" fill="none" stroke-linejoin="round" shape-rendering="crispEdges" stroke-dasharray="10 3 5 2 2 2"/>
<text x="1161.5" y="74" font-family="Liberation Sans, Arial, sans-serif" font-size="14.1" fill="#585858" text-anchor="start" font-weight="normal" transform="rotate(-90 1161.5 74)" stroke="#fff" stroke-width="0.35">GND</text>
<g transform="translate(1183 58) rotate(90)">
<polyline points="0,0 0,15" stroke="#800000" stroke-width="2" fill="none" stroke-linejoin="round" shape-rendering="crispEdges" />
<polyline points="-12,15 12,15" stroke="#800000" stroke-width="2" fill="none" stroke-linejoin="round" shape-rendering="crispEdges" />
</g>
<polyline points="1183,58 1202,58" stroke="#800000" stroke-width="2" fill="none" stroke-linejoin="round" shape-rendering="crispEdges" />
<polyline points="1183,73 1198,73 1198,58" stroke="#800000" stroke-width="2" fill="none" stroke-linejoin="round" shape-rendering="crispEdges" />
<polyline points="1200,51 1228,58" stroke="#800000" stroke-width="2" fill="none" stroke-linejoin="round" shape-rendering="crispEdges" />
<polyline points="1228,58 1242,58" stroke="#800000" stroke-width="2" fill="none" stroke-linejoin="round" shape-rendering="crispEdges" />
<polyline points="1228,58 1228,73 1242,73" stroke="#800000" stroke-width="2" fill="none" stroke-linejoin="round" shape-rendering="crispEdges" />
<circle cx="1197.5" cy="57.5" r="2" fill="#800000"/><circle cx="1227.5" cy="57.5" r="2" fill="#800000"/>
<polyline points="1183,58 1183,73" stroke="#008000" stroke-width="2" fill="none" stroke-linejoin="round" shape-rendering="crispEdges" />
<polyline points="1242,58 1242,73" stroke="#008000" stroke-width="2" fill="none" stroke-linejoin="round" shape-rendering="crispEdges" />
<circle cx="1182.5" cy="57.2" r="3.5" fill="#008000"/>
<circle cx="1182.5" cy="72.5" r="3.5" fill="#008000"/>
<circle cx="1241.5" cy="57.2" r="3.5" fill="#008000"/>
<circle cx="1241.5" cy="72.5" r="3.5" fill="#008000"/>
<text x="1188.5" y="54" font-family="Liberation Sans, Arial, sans-serif" font-size="12.5" fill="#585858" text-anchor="start" font-weight="normal" stroke="#fff" stroke-width="0.2">1</text>
<text x="1229" y="54" font-family="Liberation Sans, Arial, sans-serif" font-size="12.5" fill="#585858" text-anchor="start" font-weight="normal" stroke="#fff" stroke-width="0.2">3</text>
<text x="1188" y="69.7" font-family="Liberation Sans, Arial, sans-serif" font-size="12.5" fill="#585858" text-anchor="start" font-weight="normal" stroke="#fff" stroke-width="0.2">2</text>
<text x="1229" y="69.7" font-family="Liberation Sans, Arial, sans-serif" font-size="12.5" fill="#585858" text-anchor="start" font-weight="normal" stroke="#fff" stroke-width="0.2">4</text>
<polyline points="1242,58 1347,58 1362,73" stroke="#008000" stroke-width="2" fill="none" stroke-linejoin="round" shape-rendering="crispEdges" />
<text x="1257.5" y="56.5" font-family="Liberation Sans, Arial, sans-serif" font-size="14.5" fill="#585858" text-anchor="start" font-weight="normal" stroke="#fff" stroke-width="0.35">RESET</text>
<text x="1152" y="96" font-family="DejaVu Sans Mono, Liberation Mono, monospace" font-size="12" fill="#7d7d7d" text-anchor="start" font-weight="bold" textLength="48" lengthAdjust="spacingAndGlyphs" stroke="#7d7d7d" stroke-width="0.6">EXT_PWR</text>
<rect x="1138" y="103" width="45" height="60" stroke="#800000" stroke-width="2" fill="none" shape-rendering="crispEdges" class="b"/>
<text x="1152" y="121.5" font-family="Liberation Sans, Arial, sans-serif" font-size="12.8" fill="#585858" text-anchor="start" font-weight="normal" stroke="#fff" stroke-width="0.2">P2</text>
<text x="1152" y="151.5" font-family="Liberation Sans, Arial, sans-serif" font-size="12.8" fill="#585858" text-anchor="start" font-weight="normal" stroke="#fff" stroke-width="0.2">P1</text>
<polyline points="1183,118 1213,118" stroke="#800000" stroke-width="2" fill="none" stroke-linejoin="round" shape-rendering="crispEdges" />
<polyline points="1183,148 1213,148" stroke="#800000" stroke-width="2" fill="none" stroke-linejoin="round" shape-rendering="crispEdges" />
<polyline points="1213,118 1407,118" stroke="#008000" stroke-width="2" fill="none" stroke-linejoin="round" shape-rendering="crispEdges" />
<polyline points="1213,148 1273,148" stroke="#008000" stroke-width="2" fill="none" stroke-linejoin="round" shape-rendering="crispEdges" />
<polyline points="1288,148 1407,148" stroke="#008000" stroke-width="2" fill="none" stroke-linejoin="round" shape-rendering="crispEdges" />
<polyline points="1317,103 1407,103" stroke="#008000" stroke-width="2" fill="none" stroke-linejoin="round" shape-rendering="crispEdges" />
<polyline points="1362,133 1407,133" stroke="#008000" stroke-width="2" fill="none" stroke-linejoin="round" shape-rendering="crispEdges" />
<polyline points="1407,118 1407,133" stroke="#008000" stroke-width="2" fill="none" stroke-linejoin="round" shape-rendering="crispEdges" />
<g transform="translate(1272 118) rotate(180)">
<polyline points="0,0 0,15" stroke="#800000" stroke-width="2" fill="none" stroke-linejoin="round" shape-rendering="crispEdges" />
<polyline points="-12,15 12,15" stroke="#800000" stroke-width="2" fill="none" stroke-linejoin="round" shape-rendering="crispEdges" />
</g>
<circle cx="1271.5" cy="117.5" r="3.5" fill="#008000"/>
<text x="1255.5" y="96.5" font-family="Liberation Sans, Arial, sans-serif" font-size="14.1" fill="#585858" text-anchor="start" font-weight="normal" stroke="#fff" stroke-width="0.35">GND</text>
<text x="1300.5" y="103" font-family="Liberation Sans, Arial, sans-serif" font-size="14.5" fill="#585858" text-anchor="start" font-weight="normal" transform="rotate(-90 1300.5 103)" stroke="#fff" stroke-width="0.35">VCC</text>
<g transform="translate(1317 103) rotate(0)">
<polyline points="0,0 0,-15" stroke="#800000" stroke-width="2" fill="none" stroke-linejoin="round" shape-rendering="crispEdges" />
<polyline points="-7.7,-3.2 0,-15 7.7,-3.2" stroke="#800000" stroke-width="2" fill="none" stroke-linejoin="round" shape-rendering="crispEdges" />
</g>
<text x="1227" y="146.5" font-family="Liberation Sans, Arial, sans-serif" font-size="14.5" fill="#585858" text-anchor="start" font-weight="normal" stroke="#fff" stroke-width="0.35">V+</text>
<polyline points="1273,148 1273,178" stroke="#800000" stroke-width="2" fill="none" stroke-linejoin="round" shape-rendering="crispEdges" />
<polyline points="1288,148 1288,178" stroke="#800000" stroke-width="2" fill="none" stroke-linejoin="round" shape-rendering="crispEdges" />
<rect x="1268.5" y="162.5" width="22" height="4" rx="1.5" stroke="#800000" stroke-width="3" fill="none"/>
<polyline points="1272.5,168 1272.5,178.5" stroke="#800000" stroke-width="3" fill="none" stroke-linejoin="round" shape-rendering="crispEdges" />
<polyline points="1287.5,168 1287.5,178.5" stroke="#800000" stroke-width="3" fill="none" stroke-linejoin="round" shape-rendering="crispEdges" />
<text x="1268.5" y="161" font-family="Liberation Sans, Arial, sans-serif" font-size="12.5" fill="#585858" text-anchor="start" font-weight="normal" transform="rotate(-90 1268.5 161)" stroke="#fff" stroke-width="0.2">2</text>
<text x="1283.5" y="160" font-family="Liberation Sans, Arial, sans-serif" font-size="12.5" fill="#585858" text-anchor="start" font-weight="normal" transform="rotate(-90 1283.5 160)" stroke="#fff" stroke-width="0.2">1</text>
<text x="1303.5" y="198" font-family="Liberation Sans, Arial, sans-serif" font-size="14.1" fill="#585858" text-anchor="start" font-weight="normal" transform="rotate(-90 1303.5 198)" stroke="#fff" stroke-width="0.35">PWR</text>
<rect x="1339.5" y="57.5" width="45" height="105" stroke="#800000" stroke-width="3" fill="none" shape-rendering="crispEdges" class="b"/>
<circle cx="1371" cy="72.6" r="5.35" stroke="#800000" stroke-width="2.2" fill="none"/>
<polyline points="1362,73 1366,73" stroke="#800000" stroke-width="2" fill="none" stroke-linejoin="round" shape-rendering="crispEdges" />
<text x="1362" y="69.3" font-family="Liberation Sans, Arial, sans-serif" font-size="12.5" fill="#585858" text-anchor="end" font-weight="normal" stroke="#fff" stroke-width="0.2">1</text>
<circle cx="1371" cy="87.6" r="5.35" stroke="#800000" stroke-width="2.2" fill="none"/>
<polyline points="1362,88 1366,88" stroke="#800000" stroke-width="2" fill="none" stroke-linejoin="round" shape-rendering="crispEdges" />
<text x="1362" y="84.3" font-family="Liberation Sans, Arial, sans-serif" font-size="12.5" fill="#585858" text-anchor="end" font-weight="normal" stroke="#fff" stroke-width="0.2">2</text>
<circle cx="1371" cy="102.6" r="5.35" stroke="#800000" stroke-width="2.2" fill="none"/>
<polyline points="1362,103 1366,103" stroke="#800000" stroke-width="2" fill="none" stroke-linejoin="round" shape-rendering="crispEdges" />
<text x="1362" y="99.3" font-family="Liberation Sans, Arial, sans-serif" font-size="12.5" fill="#585858" text-anchor="end" font-weight="normal" stroke="#fff" stroke-width="0.2">3</text>
<circle cx="1371" cy="117.6" r="5.35" stroke="#800000" stroke-width="2.2" fill="none"/>
<polyline points="1362,118 1366,118" stroke="#800000" stroke-width="2" fill="none" stroke-linejoin="round" shape-rendering="crispEdges" />
<text x="1362" y="114.3" font-family="Liberation Sans, Arial, sans-serif" font-size="12.5" fill="#585858" text-anchor="end" font-weight="normal" stroke="#fff" stroke-width="0.2">4</text>
<circle cx="1371" cy="132.6" r="5.35" stroke="#800000" stroke-width="2.2" fill="none"/>
<polyline points="1362,133 1366,133" stroke="#800000" stroke-width="2" fill="none" stroke-linejoin="round" shape-rendering="crispEdges" />
<text x="1362" y="129.3" font-family="Liberation Sans, Arial, sans-serif" font-size="12.5" fill="#585858" text-anchor="end" font-weight="normal" stroke="#fff" stroke-width="0.2">5</text>
<circle cx="1371" cy="147.6" r="5.35" stroke="#800000" stroke-width="2.2" fill="none"/>
<polyline points="1362,148 1366,148" stroke="#800000" stroke-width="2" fill="none" stroke-linejoin="round" shape-rendering="crispEdges" />
<text x="1362" y="144.3" font-family="Liberation Sans, Arial, sans-serif" font-size="12.5" fill="#585858" text-anchor="end" font-weight="normal" stroke="#fff" stroke-width="0.2">6</text>
<rect x="1384.5" y="87.5" width="45" height="75" stroke="#800000" stroke-width="3" fill="none" shape-rendering="crispEdges" class="b"/>
<circle cx="1416" cy="102.6" r="5.35" stroke="#800000" stroke-width="2.2" fill="none"/>
<polyline points="1407,103 1411,103" stroke="#800000" stroke-width="2" fill="none" stroke-linejoin="round" shape-rendering="crispEdges" />
<text x="1407" y="99.3" font-family="Liberation Sans, Arial, sans-serif" font-size="12.5" fill="#585858" text-anchor="end" font-weight="normal" stroke="#fff" stroke-width="0.2">1</text>
<circle cx="1416" cy="117.6" r="5.35" stroke="#800000" stroke-width="2.2" fill="none"/>
<polyline points="1407,118 1411,118" stroke="#800000" stroke-width="2" fill="none" stroke-linejoin="round" shape-rendering="crispEdges" />
<text x="1407" y="114.3" font-family="Liberation Sans, Arial, sans-serif" font-size="12.5" fill="#585858" text-anchor="end" font-weight="normal" stroke="#fff" stroke-width="0.2">2</text>
<circle cx="1416" cy="132.6" r="5.35" stroke="#800000" stroke-width="2.2" fill="none"/>
<polyline points="1407,133 1411,133" stroke="#800000" stroke-width="2" fill="none" stroke-linejoin="round" shape-rendering="crispEdges" />
<text x="1407" y="129.3" font-family="Liberation Sans, Arial, sans-serif" font-size="12.5" fill="#585858" text-anchor="end" font-weight="normal" stroke="#fff" stroke-width="0.2">3</text>
<circle cx="1416" cy="147.6" r="5.35" stroke="#800000" stroke-width="2.2" fill="none"/>
<polyline points="1407,148 1411,148" stroke="#800000" stroke-width="2" fill="none" stroke-linejoin="round" shape-rendering="crispEdges" />
<text x="1407" y="144.3" font-family="Liberation Sans, Arial, sans-serif" font-size="12.5" fill="#585858" text-anchor="end" font-weight="normal" stroke="#fff" stroke-width="0.2">4</text>
<circle cx="1361.5" cy="102.5" r="3.5" fill="#008000"/>
<circle cx="1406.5" cy="102.5" r="3.5" fill="#008000"/>
<circle cx="1361.5" cy="117.5" r="3.5" fill="#008000"/>
<circle cx="1406.5" cy="117.5" r="3.5" fill="#008000"/>
<circle cx="1361.5" cy="132.5" r="3.5" fill="#008000"/>
<circle cx="1406.5" cy="132.5" r="3.5" fill="#008000"/>
<circle cx="1361.5" cy="147.5" r="3.5" fill="#008000"/>
<circle cx="1406.5" cy="147.5" r="3.5" fill="#008000"/>
<text x="1339" y="52" font-family="Liberation Sans, Arial, sans-serif" font-size="14.1" fill="#585858" text-anchor="start" font-weight="normal" stroke="#fff" stroke-width="0.35">JP1</text>
<text x="1385" y="82" font-family="Liberation Sans, Arial, sans-serif" font-size="14.1" fill="#585858" text-anchor="start" font-weight="normal" stroke="#fff" stroke-width="0.35">JP4</text>
<polyline points="298,238 748,238 748,538 583,538" stroke="#008000" stroke-width="2" fill="none" stroke-linejoin="round" shape-rendering="crispEdges" />
<text x="268.5" y="237" font-family="Liberation Sans, Arial, sans-serif" font-size="14.5" fill="#585858" text-anchor="start" font-weight="normal" stroke="#fff" stroke-width="0.35">PWM2B</text>
<polyline points="268,328 404,328" stroke="#008000" stroke-width="2" fill="none" stroke-linejoin="round" shape-rendering="crispEdges" />
<text x="268" y="327" font-family="Liberation Sans, Arial, sans-serif" font-size="14.5" fill="#585858" text-anchor="start" font-weight="normal" stroke="#fff" stroke-width="0.35">PWM2A</text>
<polyline points="328,358 404,358" stroke="#008000" stroke-width="2" fill="none" stroke-linejoin="round" shape-rendering="crispEdges" />
<text x="328" y="357" font-family="Liberation Sans, Arial, sans-serif" font-size="14.5" fill="#585858" text-anchor="start" font-weight="normal" stroke="#fff" stroke-width="0.35">M1A</text>
<polyline points="404,388 209,388 209,598 119,598" stroke="#008000" stroke-width="2" fill="none" stroke-linejoin="round" shape-rendering="crispEdges" />
<polyline points="404,418 374,418 374,448 404,448" stroke="#008000" stroke-width="2" fill="none" stroke-linejoin="round" shape-rendering="crispEdges" />
<polyline points="359,433 374,433" stroke="#008000" stroke-width="2" fill="none" stroke-linejoin="round" shape-rendering="crispEdges" />
<circle cx="373.5" cy="432.5" r="3.5" fill="#008000"/>
<g transform="translate(359 433) rotate(90)">
<polyline points="0,0 0,15" stroke="#800000" stroke-width="2" fill="none" stroke-linejoin="round" shape-rendering="crispEdges" />
<polyline points="-12,15 12,15" stroke="#800000" stroke-width="2" fill="none" stroke-linejoin="round" shape-rendering="crispEdges" />
</g>
<text x="337" y="449.5" font-family="Liberation Sans, Arial, sans-serif" font-size="14.1" fill="#585858" text-anchor="start" font-weight="normal" transform="rotate(-90 337 449.5)" stroke="#fff" stroke-width="0.35">GND</text>
<polyline points="404,478 224,478 224,628" stroke="#008000" stroke-width="2" fill="none" stroke-linejoin="round" shape-rendering="crispEdges" />
<polyline points="328,508 404,508" stroke="#008000" stroke-width="2" fill="none" stroke-linejoin="round" shape-rendering="crispEdges" />
<text x="328" y="507" font-family="Liberation Sans, Arial, sans-serif" font-size="14.5" fill="#585858" text-anchor="start" font-weight="normal" stroke="#fff" stroke-width="0.35">M1B</text>
<polyline points="404,538 404,673" stroke="#008000" stroke-width="2" fill="none" stroke-linejoin="round" shape-rendering="crispEdges" />
<g transform="translate(404 673) rotate(180)">
<polyline points="0,0 0,-16" stroke="#800000" stroke-width="2" fill="none" stroke-linejoin="round" shape-rendering="crispEdges" />
<polyline points="-5.5,-6.5 5.5,-6.5 0,-16 -5.5,-6.5" stroke="#800000" stroke-width="2" fill="none" stroke-linejoin="round" shape-rendering="crispEdges" />
</g>
<circle cx="403.5" cy="582.5" r="3.5" fill="#008000"/>
<polyline points="404,583 359,583 359,613" stroke="#008000" stroke-width="2" fill="none" stroke-linejoin="round" shape-rendering="crispEdges" />
<g transform="translate(359 628) rotate(0)">
<polyline points="0,-15 0,0" stroke="#800000" stroke-width="2" fill="none" stroke-linejoin="round" shape-rendering="crispEdges" />
<polyline points="-16,0 16,0" stroke="#800000" stroke-width="2" fill="none" stroke-linejoin="round" shape-rendering="crispEdges" />
<polyline points="0,5 0,30" stroke="#800000" stroke-width="2" fill="none" stroke-linejoin="round" shape-rendering="crispEdges" />
<path d="M-15,11 A21.75,21.75 0 0 1 15,11" stroke="#800000" stroke-width="2.4" fill="none" shape-rendering="crispEdges"/>
<polyline points="-14.5,-5.2 -7.5,-5.2" stroke="#800000" stroke-width="1.5" fill="none" stroke-linejoin="round" />
<polyline points="-11,-8.4 -11,-2.2" stroke="#800000" stroke-width="1.5" fill="none" stroke-linejoin="round" />
</g>
<polyline points="359,658 359,673" stroke="#008000" stroke-width="2" fill="none" stroke-linejoin="round" shape-rendering="crispEdges" />
<g transform="translate(359 672) rotate(0)">
<polyline points="0,0 0,15" stroke="#800000" stroke-width="2" fill="none" stroke-linejoin="round" shape-rendering="crispEdges" />
<polyline points="-12,15 12,15" stroke="#800000" stroke-width="2" fill="none" stroke-linejoin="round" shape-rendering="crispEdges" />
</g>
<text x="364.5" y="623" font-family="Liberation Sans, Arial, sans-serif" font-size="14.1" fill="#585858" text-anchor="start" font-weight="normal" stroke="#fff" stroke-width="0.35">C7</text>
<text x="365" y="651" font-family="Liberation Sans, Arial, sans-serif" font-size="13.9" fill="#585858" text-anchor="start" font-weight="normal" stroke="#fff" stroke-width="0.35">100uF/16V</text>
<text x="343.5" y="701" font-family="Liberation Sans, Arial, sans-serif" font-size="14.1" fill="#585858" text-anchor="start" font-weight="normal" stroke="#fff" stroke-width="0.35">GND</text>
<text x="427" y="691" font-family="Liberation Sans, Arial, sans-serif" font-size="14.5" fill="#585858" text-anchor="start" font-weight="normal" transform="rotate(-90 427 691)" stroke="#fff" stroke-width="0.35">V+</text>
<polyline points="583,328 628,328" stroke="#008000" stroke-width="2" fill="none" stroke-linejoin="round" shape-rendering="crispEdges" />
<g transform="translate(643 328) rotate(-90)">
<polyline points="0,-15 0,0" stroke="#800000" stroke-width="2" fill="none" stroke-linejoin="round" shape-rendering="crispEdges" />
<polyline points="-16,0 16,0" stroke="#800000" stroke-width="2" fill="none" stroke-linejoin="round" shape-rendering="crispEdges" />
<polyline points="0,5 0,30" stroke="#800000" stroke-width="2" fill="none" stroke-linejoin="round" shape-rendering="crispEdges" />
<path d="M-15,11 A21.75,21.75 0 0 1 15,11" stroke="#800000" stroke-width="2.4" fill="none" shape-rendering="crispEdges"/>
<polyline points="-14.5,-5.2 -7.5,-5.2" stroke="#800000" stroke-width="1.5" fill="none" stroke-linejoin="round" />
<polyline points="-11,-8.4 -11,-2.2" stroke="#800000" stroke-width="1.5" fill="none" stroke-linejoin="round" />
</g>
<polyline points="673,328 703,328" stroke="#008000" stroke-width="2" fill="none" stroke-linejoin="round" shape-rendering="crispEdges" />
<g transform="translate(703 328) rotate(-90)">
<polyline points="0,0 0,15" stroke="#800000" stroke-width="2" fill="none" stroke-linejoin="round" shape-rendering="crispEdges" />
<polyline points="-12,15 12,15" stroke="#800000" stroke-width="2" fill="none" stroke-linejoin="round" shape-rendering="crispEdges" />
</g>
<g transform="translate(598 268) rotate(0)">
<polyline points="0,0 0,-15" stroke="#800000" stroke-width="2" fill="none" stroke-linejoin="round" shape-rendering="crispEdges" />
<polyline points="-7.7,-3.2 0,-15 7.7,-3.2" stroke="#800000" stroke-width="2" fill="none" stroke-linejoin="round" shape-rendering="crispEdges" />
</g>
<polyline points="598,268 598,328" stroke="#008000" stroke-width="2" fill="none" stroke-linejoin="round" shape-rendering="crispEdges" />
<polyline points="598,283 628,283" stroke="#008000" stroke-width="2" fill="none" stroke-linejoin="round" shape-rendering="crispEdges" />
<g transform="translate(643 283) rotate(-90)">
<polyline points="0,-15 0,0" stroke="#800000" stroke-width="2" fill="none" stroke-linejoin="round" shape-rendering="crispEdges" />
<polyline points="-16,0 16,0" stroke="#800000" stroke-width="2" fill="none" stroke-linejoin="round" shape-rendering="crispEdges" />
<polyline points="0,5 0,30" stroke="#800000" stroke-width="2" fill="none" stroke-linejoin="round" shape-rendering="crispEdges" />
<path d="M-15,11 A21.75,21.75 0 0 1 15,11" stroke="#800000" stroke-width="2.4" fill="none" shape-rendering="crispEdges"/>
</g>
<polyline points="673,283 688,283 688,328" stroke="#008000" stroke-width="2" fill="none" stroke-linejoin="round" shape-rendering="crispEdges" />
<circle cx="597.5" cy="282.5" r="3.5" fill="#008000"/>
<circle cx="597.5" cy="327.5" r="3.5" fill="#008000"/>
<circle cx="687.5" cy="327.5" r="3.5" fill="#008000"/>
<text x="581.5" y="267.5" font-family="Liberation Sans, Arial, sans-serif" font-size="14.5" fill="#585858" text-anchor="start" font-weight="normal" transform="rotate(-90 581.5 267.5)" stroke="#fff" stroke-width="0.35">VCC</text>
<text x="638.5" y="277" font-family="Liberation Sans, Arial, sans-serif" font-size="14.1" fill="#585858" text-anchor="start" font-weight="normal" transform="rotate(-90 638.5 277)" stroke="#fff" stroke-width="0.35">C4</text>
<text x="666.5" y="276.7" font-family="Liberation Sans, Arial, sans-serif" font-size="13.9" fill="#585858" text-anchor="start" font-weight="normal" transform="rotate(-90 666.5 276.7)" stroke="#fff" stroke-width="0.35">0.1uF</text>
<text x="638.5" y="321.5" font-family="Liberation Sans, Arial, sans-serif" font-size="14.1" fill="#585858" text-anchor="start" font-weight="normal" transform="rotate(-90 638.5 321.5)" stroke="#fff" stroke-width="0.35">C3</text>
<text x="650" y="352" font-family="Liberation Sans, Arial, sans-serif" font-size="13.9" fill="#585858" text-anchor="start" font-weight="normal" stroke="#fff" stroke-width="0.35">100uF/6V</text>
<text x="732" y="343" font-family="Liberation Sans, Arial, sans-serif" font-size="14.1" fill="#585858" text-anchor="start" font-weight="normal" transform="rotate(-90 732 343)" stroke="#fff" stroke-width="0.35">GND</text>
<polyline points="583,358 614,358" stroke="#008000" stroke-width="2" fill="none" stroke-linejoin="round" shape-rendering="crispEdges" />
<text x="583" y="357" font-family="Liberation Sans, Arial, sans-serif" font-size="14.5" fill="#585858" text-anchor="start" font-weight="normal" stroke="#fff" stroke-width="0.35">M2A</text>
<polyline points="583,388 703,388 703,717 224,717 224,687" stroke="#008000" stroke-width="2" fill="none" stroke-linejoin="round" shape-rendering="crispEdges" />
<polyline points="583,418 613,418 613,448 583,448" stroke="#008000" stroke-width="2" fill="none" stroke-linejoin="round" shape-rendering="crispEdges" />
<circle cx="612.5" cy="432.5" r="3.5" fill="#008000"/>
<polyline points="613,433 628,433" stroke="#008000" stroke-width="2" fill="none" stroke-linejoin="round" shape-rendering="crispEdges" />
<g transform="translate(628 433) rotate(-90)">
<polyline points="0,0 0,15" stroke="#800000" stroke-width="2" fill="none" stroke-linejoin="round" shape-rendering="crispEdges" />
<polyline points="-12,15 12,15" stroke="#800000" stroke-width="2" fill="none" stroke-linejoin="round" shape-rendering="crispEdges" />
</g>
<text x="657" y="447.5" font-family="Liberation Sans, Arial, sans-serif" font-size="14.1" fill="#585858" text-anchor="start" font-weight="normal" transform="rotate(-90 657 447.5)" stroke="#fff" stroke-width="0.35">GND</text>
<polyline points="583,478 644,478 644,747 194,747 194,717 119,717" stroke="#008000" stroke-width="2" fill="none" stroke-linejoin="round" shape-rendering="crispEdges" />
<polyline points="583,508 599,508" stroke="#008000" stroke-width="2" fill="none" stroke-linejoin="round" shape-rendering="crispEdges" />
<text x="583" y="507" font-family="Liberation Sans, Arial, sans-serif" font-size="14.5" fill="#585858" text-anchor="start" font-weight="normal" stroke="#fff" stroke-width="0.35">M2B</text>
<rect x="434" y="313" width="119" height="240" stroke="#800000" stroke-width="2" fill="none" shape-rendering="crispEdges" class="b"/>
<text x="433.5" y="305.3" font-family="Liberation Sans, Arial, sans-serif" font-size="14.1" fill="#585858" text-anchor="start" font-weight="normal" stroke="#fff" stroke-width="0.35">IC1</text>
<polyline points="404,328 434,328" stroke="#800000" stroke-width="2" fill="none" stroke-linejoin="round" shape-rendering="crispEdges" />
<polyline points="553,328 583,328" stroke="#800000" stroke-width="2" fill="none" stroke-linejoin="round" shape-rendering="crispEdges" />
<text x="418.5" y="324.7" font-family="Liberation Sans, Arial, sans-serif" font-size="12.5" fill="#585858" text-anchor="end" font-weight="normal" stroke="#fff" stroke-width="0.2">1</text>
<text x="565.5" y="324.7" font-family="Liberation Sans, Arial, sans-serif" font-size="12.5" fill="#585858" text-anchor="start" font-weight="normal" stroke="#fff" stroke-width="0.2">16</text>
<text x="446.5" y="331" font-family="Liberation Sans, Arial, sans-serif" font-size="12.5" fill="#585858" text-anchor="start" font-weight="normal" stroke="#fff" stroke-width="0.2">1-2EN</text>
<text x="538.5" y="331" font-family="Liberation Sans, Arial, sans-serif" font-size="12.5" fill="#585858" text-anchor="end" font-weight="normal" stroke="#fff" stroke-width="0.2">VCC1</text>
<polyline points="404,358 434,358" stroke="#800000" stroke-width="2" fill="none" stroke-linejoin="round" shape-rendering="crispEdges" />
<polyline points="553,358 583,358" stroke="#800000" stroke-width="2" fill="none" stroke-linejoin="round" shape-rendering="crispEdges" />
<text x="418.5" y="354.7" font-family="Liberation Sans, Arial, sans-serif" font-size="12.5" fill="#585858" text-anchor="end" font-weight="normal" stroke="#fff" stroke-width="0.2">2</text>
<text x="565.5" y="354.7" font-family="Liberation Sans, Arial, sans-serif" font-size="12.5" fill="#585858" text-anchor="start" font-weight="normal" stroke="#fff" stroke-width="0.2">15</text>
<text x="446.5" y="361" font-family="Liberation Sans, Arial, sans-serif" font-size="12.5" fill="#585858" text-anchor="start" font-weight="normal" stroke="#fff" stroke-width="0.2">1A</text>
<text x="538.5" y="361" font-family="Liberation Sans, Arial, sans-serif" font-size="12.5" fill="#585858" text-anchor="end" font-weight="normal" stroke="#fff" stroke-width="0.2">4A</text>
<polyline points="404,388 434,388" stroke="#800000" stroke-width="2" fill="none" stroke-linejoin="round" shape-rendering="crispEdges" />
<polyline points="553,388 583,388" stroke="#800000" stroke-width="2" fill="none" stroke-linejoin="round" shape-rendering="crispEdges" />
<text x="418.5" y="384.7" font-family="Liberation Sans, Arial, sans-serif" font-size="12.5" fill="#585858" text-anchor="end" font-weight="normal" stroke="#fff" stroke-width="0.2">3</text>
<text x="565.5" y="384.7" font-family="Liberation Sans, Arial, sans-serif" font-size="12.5" fill="#585858" text-anchor="start" font-weight="normal" stroke="#fff" stroke-width="0.2">14</text>
<text x="446.5" y="391" font-family="Liberation Sans, Arial, sans-serif" font-size="12.5" fill="#585858" text-anchor="start" font-weight="normal" stroke="#fff" stroke-width="0.2">1Y</text>
<text x="538.5" y="391" font-family="Liberation Sans, Arial, sans-serif" font-size="12.5" fill="#585858" text-anchor="end" font-weight="normal" stroke="#fff" stroke-width="0.2">4Y</text>
<polyline points="404,418 434,418" stroke="#800000" stroke-width="2" fill="none" stroke-linejoin="round" shape-rendering="crispEdges" />
<polyline points="553,418 583,418" stroke="#800000" stroke-width="2" fill="none" stroke-linejoin="round" shape-rendering="crispEdges" />
<text x="418.5" y="414.7" font-family="Liberation Sans, Arial, sans-serif" font-size="12.5" fill="#585858" text-anchor="end" font-weight="normal" stroke="#fff" stroke-width="0.2">4</text>
<text x="565.5" y="414.7" font-family="Liberation Sans, Arial, sans-serif" font-size="12.5" fill="#585858" text-anchor="start" font-weight="normal" stroke="#fff" stroke-width="0.2">13</text>
<text x="446.5" y="421" font-family="Liberation Sans, Arial, sans-serif" font-size="12.5" fill="#585858" text-anchor="start" font-weight="normal" stroke="#fff" stroke-width="0.2">GND1</text>
<text x="538.5" y="421" font-family="Liberation Sans, Arial, sans-serif" font-size="12.5" fill="#585858" text-anchor="end" font-weight="normal" stroke="#fff" stroke-width="0.2">GND3</text>
<polyline points="404,448 434,448" stroke="#800000" stroke-width="2" fill="none" stroke-linejoin="round" shape-rendering="crispEdges" />
<polyline points="553,448 583,448" stroke="#800000" stroke-width="2" fill="none" stroke-linejoin="round" shape-rendering="crispEdges" />
<text x="418.5" y="444.7" font-family="Liberation Sans, Arial, sans-serif" font-size="12.5" fill="#585858" text-anchor="end" font-weight="normal" stroke="#fff" stroke-width="0.2">5</text>
<text x="565.5" y="444.7" font-family="Liberation Sans, Arial, sans-serif" font-size="12.5" fill="#585858" text-anchor="start" font-weight="normal" stroke="#fff" stroke-width="0.2">12</text>
<text x="446.5" y="451" font-family="Liberation Sans, Arial, sans-serif" font-size="12.5" fill="#585858" text-anchor="start" font-weight="normal" stroke="#fff" stroke-width="0.2">GND2</text>
<text x="538.5" y="451" font-family="Liberation Sans, Arial, sans-serif" font-size="12.5" fill="#585858" text-anchor="end" font-weight="normal" stroke="#fff" stroke-width="0.2">GND4</text>
<polyline points="404,478 434,478" stroke="#800000" stroke-width="2" fill="none" stroke-linejoin="round" shape-rendering="crispEdges" />
<polyline points="553,478 583,478" stroke="#800000" stroke-width="2" fill="none" stroke-linejoin="round" shape-rendering="crispEdges" />
<text x="418.5" y="474.7" font-family="Liberation Sans, Arial, sans-serif" font-size="12.5" fill="#585858" text-anchor="end" font-weight="normal" stroke="#fff" stroke-width="0.2">6</text>
<text x="565.5" y="474.7" font-family="Liberation Sans, Arial, sans-serif" font-size="12.5" fill="#585858" text-anchor="start" font-weight="normal" stroke="#fff" stroke-width="0.2">11</text>
<text x="446.5" y="481" font-family="Liberation Sans, Arial, sans-serif" font-size="12.5" fill="#585858" text-anchor="start" font-weight="normal" stroke="#fff" stroke-width="0.2">2Y</text>
<text x="538.5" y="481" font-family="Liberation Sans, Arial, sans-serif" font-size="12.5" fill="#585858" text-anchor="end" font-weight="normal" stroke="#fff" stroke-width="0.2">3Y</text>
<polyline points="404,508 434,508" stroke="#800000" stroke-width="2" fill="none" stroke-linejoin="round" shape-rendering="crispEdges" />
<polyline points="553,508 583,508" stroke="#800000" stroke-width="2" fill="none" stroke-linejoin="round" shape-rendering="crispEdges" />
<text x="418.5" y="504.7" font-family="Liberation Sans, Arial, sans-serif" font-size="12.5" fill="#585858" text-anchor="end" font-weight="normal" stroke="#fff" stroke-width="0.2">7</text>
<text x="565.5" y="504.7" font-family="Liberation Sans, Arial, sans-serif" font-size="12.5" fill="#585858" text-anchor="start" font-weight="normal" stroke="#fff" stroke-width="0.2">10</text>
<text x="446.5" y="511" font-family="Liberation Sans, Arial, sans-serif" font-size="12.5" fill="#585858" text-anchor="start" font-weight="normal" stroke="#fff" stroke-width="0.2">2A</text>
<text x="538.5" y="511" font-family="Liberation Sans, Arial, sans-serif" font-size="12.5" fill="#585858" text-anchor="end" font-weight="normal" stroke="#fff" stroke-width="0.2">3A</text>
<polyline points="404,538 434,538" stroke="#800000" stroke-width="2" fill="none" stroke-linejoin="round" shape-rendering="crispEdges" />
<polyline points="553,538 583,538" stroke="#800000" stroke-width="2" fill="none" stroke-linejoin="round" shape-rendering="crispEdges" />
<text x="418.5" y="534.7" font-family="Liberation Sans, Arial, sans-serif" font-size="12.5" fill="#585858" text-anchor="end" font-weight="normal" stroke="#fff" stroke-width="0.2">8</text>
<text x="565.5" y="534.7" font-family="Liberation Sans, Arial, sans-serif" font-size="12.5" fill="#585858" text-anchor="start" font-weight="normal" stroke="#fff" stroke-width="0.2">9</text>
<text x="446.5" y="541" font-family="Liberation Sans, Arial, sans-serif" font-size="12.5" fill="#585858" text-anchor="start" font-weight="normal" stroke="#fff" stroke-width="0.2">VCC2</text>
<text x="538.5" y="541" font-family="Liberation Sans, Arial, sans-serif" font-size="12.5" fill="#585858" text-anchor="end" font-weight="normal" stroke="#fff" stroke-width="0.2">3-4EN</text>
<text x="162" y="478" font-family="Liberation Sans, Arial, sans-serif" font-size="14.5" fill="#800000" text-anchor="start" font-weight="normal" transform="rotate(-90 162 478)">Stepper / 2 DC-motor driver #1</text>
<rect x="44" y="582.5" width="45" height="149.5" stroke="#800000" stroke-width="2" fill="none" shape-rendering="crispEdges" class="b"/>
<polyline points="89,598 119,598" stroke="#800000" stroke-width="2" fill="none" stroke-linejoin="round" shape-rendering="crispEdges" />
<text x="58" y="601" font-family="Liberation Sans, Arial, sans-serif" font-size="12.5" fill="#585858" text-anchor="start" font-weight="normal" stroke="#fff" stroke-width="0.2">P1</text>
<polyline points="89,628 119,628" stroke="#800000" stroke-width="2" fill="none" stroke-linejoin="round" shape-rendering="crispEdges" />
<text x="58" y="631" font-family="Liberation Sans, Arial, sans-serif" font-size="12.5" fill="#585858" text-anchor="start" font-weight="normal" stroke="#fff" stroke-width="0.2">P2</text>
<polyline points="89,658 119,658" stroke="#800000" stroke-width="2" fill="none" stroke-linejoin="round" shape-rendering="crispEdges" />
<text x="58" y="661" font-family="Liberation Sans, Arial, sans-serif" font-size="12.5" fill="#585858" text-anchor="start" font-weight="normal" stroke="#fff" stroke-width="0.2">P3</text>
<polyline points="89,687 119,687" stroke="#800000" stroke-width="2" fill="none" stroke-linejoin="round" shape-rendering="crispEdges" />
<text x="58" y="691" font-family="Liberation Sans, Arial, sans-serif" font-size="12.5" fill="#585858" text-anchor="start" font-weight="normal" stroke="#fff" stroke-width="0.2">P4</text>
<polyline points="89,717 119,717" stroke="#800000" stroke-width="2" fill="none" stroke-linejoin="round" shape-rendering="crispEdges" />
<text x="58" y="721" font-family="Liberation Sans, Arial, sans-serif" font-size="12.5" fill="#585858" text-anchor="start" font-weight="normal" stroke="#fff" stroke-width="0.2">P5</text>
<text x="30.5" y="673" font-family="DejaVu Sans Mono, Liberation Mono, monospace" font-size="12" fill="#7d7d7d" text-anchor="start" font-weight="bold" transform="rotate(-90 30.5 673)" textLength="13.5" lengthAdjust="spacingAndGlyphs" stroke="#7d7d7d" stroke-width="0.5">X1</text>
<g transform="translate(134 583) rotate(180)">
<polyline points="0,-15 0,0" stroke="#800000" stroke-width="2" fill="none" stroke-linejoin="round" shape-rendering="crispEdges" />
<polyline points="-16,0 16,0" stroke="#800000" stroke-width="2" fill="none" stroke-linejoin="round" shape-rendering="crispEdges" />
<polyline points="0,5 0,30" stroke="#800000" stroke-width="2" fill="none" stroke-linejoin="round" shape-rendering="crispEdges" />
<path d="M-15,11 A21.75,21.75 0 0 1 15,11" stroke="#800000" stroke-width="2.4" fill="none" shape-rendering="crispEdges"/>
</g>
<g transform="translate(134 553) rotate(180)">
<polyline points="0,0 0,15" stroke="#800000" stroke-width="2" fill="none" stroke-linejoin="round" shape-rendering="crispEdges" />
<polyline points="-12,15 12,15" stroke="#800000" stroke-width="2" fill="none" stroke-linejoin="round" shape-rendering="crispEdges" />
</g>
<circle cx="133.5" cy="597.5" r="3.5" fill="#008000"/>
<text x="116.5" y="532" font-family="Liberation Sans, Arial, sans-serif" font-size="14.1" fill="#585858" text-anchor="start" font-weight="normal" stroke="#fff" stroke-width="0.35">GND</text>
<text x="91" y="567" font-family="Liberation Sans, Arial, sans-serif" font-size="13.9" fill="#585858" text-anchor="start" font-weight="normal" stroke="#fff" stroke-width="0.35">0.1uF</text>
<text x="101" y="595" font-family="Liberation Sans, Arial, sans-serif" font-size="14.1" fill="#585858" text-anchor="start" font-weight="normal" stroke="#fff" stroke-width="0.35">C13</text>
<polyline points="119,628 224,628" stroke="#008000" stroke-width="2" fill="none" stroke-linejoin="round" shape-rendering="crispEdges" />
<circle cx="223.5" cy="627.5" r="3.5" fill="#008000"/>
<g transform="translate(240 628) rotate(-90)">
<polyline points="0,-15 0,0" stroke="#800000" stroke-width="2" fill="none" stroke-linejoin="round" shape-rendering="crispEdges" />
<polyline points="-16,0 16,0" stroke="#800000" stroke-width="2" fill="none" stroke-linejoin="round" shape-rendering="crispEdges" />
<polyline points="0,5 0,30" stroke="#800000" stroke-width="2" fill="none" stroke-linejoin="round" shape-rendering="crispEdges" />
<path d="M-15,11 A21.75,21.75 0 0 1 15,11" stroke="#800000" stroke-width="2.4" fill="none" shape-rendering="crispEdges"/>
</g>
<polyline points="269,628 269,687" stroke="#008000" stroke-width="2" fill="none" stroke-linejoin="round" shape-rendering="crispEdges" />
<circle cx="268.5" cy="657.5" r="3.5" fill="#008000"/>
<g transform="translate(269 658) rotate(-90)">
<polyline points="0,0 0,15" stroke="#800000" stroke-width="2" fill="none" stroke-linejoin="round" shape-rendering="crispEdges" />
<polyline points="-12,15 12,15" stroke="#800000" stroke-width="2" fill="none" stroke-linejoin="round" shape-rendering="crispEdges" />
</g>
<g transform="translate(240 687) rotate(-90)">
<polyline points="0,-15 0,0" stroke="#800000" stroke-width="2" fill="none" stroke-linejoin="round" shape-rendering="crispEdges" />
<polyline points="-16,0 16,0" stroke="#800000" stroke-width="2" fill="none" stroke-linejoin="round" shape-rendering="crispEdges" />
<polyline points="0,5 0,30" stroke="#800000" stroke-width="2" fill="none" stroke-linejoin="round" shape-rendering="crispEdges" />
<path d="M-15,11 A21.75,21.75 0 0 1 15,11" stroke="#800000" stroke-width="2.4" fill="none" shape-rendering="crispEdges"/>
</g>
<polyline points="119,687 224,687" stroke="#008000" stroke-width="2" fill="none" stroke-linejoin="round" shape-rendering="crispEdges" />
<circle cx="118.5" cy="686.5" r="3.5" fill="#008000"/>
<circle cx="223.5" cy="686.5" r="3.5" fill="#008000"/>
<polyline points="119,658 149,658" stroke="#008000" stroke-width="2" fill="none" stroke-linejoin="round" shape-rendering="crispEdges" />
<g transform="translate(149 658) rotate(-90)">
<polyline points="0,0 0,15" stroke="#800000" stroke-width="2" fill="none" stroke-linejoin="round" shape-rendering="crispEdges" />
<polyline points="-12,15 12,15" stroke="#800000" stroke-width="2" fill="none" stroke-linejoin="round" shape-rendering="crispEdges" />
</g>
<circle cx="133.5" cy="716.5" r="3.5" fill="#008000"/>
<g transform="translate(134 732) rotate(0)">
<polyline points="0,-15 0,0" stroke="#800000" stroke-width="2" fill="none" stroke-linejoin="round" shape-rendering="crispEdges" />
<polyline points="-16,0 16,0" stroke="#800000" stroke-width="2" fill="none" stroke-linejoin="round" shape-rendering="crispEdges" />
<polyline points="0,5 0,30" stroke="#800000" stroke-width="2" fill="none" stroke-linejoin="round" shape-rendering="crispEdges" />
<path d="M-15,11 A21.75,21.75 0 0 1 15,11" stroke="#800000" stroke-width="2.4" fill="none" shape-rendering="crispEdges"/>
</g>
<g transform="translate(134 762) rotate(0)">
<polyline points="0,0 0,15" stroke="#800000" stroke-width="2" fill="none" stroke-linejoin="round" shape-rendering="crispEdges" />
<polyline points="-12,15 12,15" stroke="#800000" stroke-width="2" fill="none" stroke-linejoin="round" shape-rendering="crispEdges" />
</g>
<text x="139.5" y="728" font-family="Liberation Sans, Arial, sans-serif" font-size="14.1" fill="#585858" text-anchor="start" font-weight="normal" stroke="#fff" stroke-width="0.35">C10</text>
<text x="140" y="756" font-family="Liberation Sans, Arial, sans-serif" font-size="13.9" fill="#585858" text-anchor="start" font-weight="normal" stroke="#fff" stroke-width="0.35">0.1uF</text>
<text x="119" y="791" font-family="Liberation Sans, Arial, sans-serif" font-size="14.1" fill="#585858" text-anchor="start" font-weight="normal" stroke="#fff" stroke-width="0.35">GND</text>
<text x="234.5" y="622" font-family="Liberation Sans, Arial, sans-serif" font-size="14.1" fill="#585858" text-anchor="start" font-weight="normal" transform="rotate(-90 234.5 622)" stroke="#fff" stroke-width="0.35">C12</text>
<text x="261.5" y="621" font-family="Liberation Sans, Arial, sans-serif" font-size="13.9" fill="#585858" text-anchor="start" font-weight="normal" transform="rotate(-90 261.5 621)" stroke="#fff" stroke-width="0.35">0.1uF</text>
<text x="233.5" y="681" font-family="Liberation Sans, Arial, sans-serif" font-size="14.1" fill="#585858" text-anchor="start" font-weight="normal" transform="rotate(-90 233.5 681)" stroke="#fff" stroke-width="0.35">C11</text>
<text x="261.5" y="680" font-family="Liberation Sans, Arial, sans-serif" font-size="13.9" fill="#585858" text-anchor="start" font-weight="normal" transform="rotate(-90 261.5 680)" stroke="#fff" stroke-width="0.35">0.1uF</text>
<text x="297.5" y="672" font-family="Liberation Sans, Arial, sans-serif" font-size="14.1" fill="#585858" text-anchor="start" font-weight="normal" transform="rotate(-90 297.5 672)" stroke="#fff" stroke-width="0.35">GND</text>
<text x="177.5" y="672" font-family="Liberation Sans, Arial, sans-serif" font-size="14.1" fill="#585858" text-anchor="start" font-weight="normal" transform="rotate(-90 177.5 672)" stroke="#fff" stroke-width="0.35">GND</text>
<polyline points="882,223 1422,223 1422,523 1258,523" stroke="#008000" stroke-width="2" fill="none" stroke-linejoin="round" shape-rendering="crispEdges" />
<text x="829.3" y="231.5" font-family="Liberation Sans, Arial, sans-serif" font-size="14.5" fill="#585858" text-anchor="start" font-weight="normal" stroke="#fff" stroke-width="0.35">PWM0A</text>
<polyline points="882,238 1003,238 1003,313 1078,313" stroke="#008000" stroke-width="2" fill="none" stroke-linejoin="round" shape-rendering="crispEdges" />
<text x="828" y="246.3" font-family="Liberation Sans, Arial, sans-serif" font-size="14.5" fill="#585858" text-anchor="start" font-weight="normal" stroke="#fff" stroke-width="0.35">PWM0B</text>
<polyline points="1017,343 1078,343" stroke="#008000" stroke-width="2" fill="none" stroke-linejoin="round" shape-rendering="crispEdges" />
<text x="1032.5" y="342" font-family="Liberation Sans, Arial, sans-serif" font-size="14.5" fill="#585858" text-anchor="start" font-weight="normal" stroke="#fff" stroke-width="0.35">M3A</text>
<polyline points="1078,373 958,373 958,702 1168,702" stroke="#008000" stroke-width="2" fill="none" stroke-linejoin="round" shape-rendering="crispEdges" />
<polyline points="1078,403 1048,403 1048,433 1078,433" stroke="#008000" stroke-width="2" fill="none" stroke-linejoin="round" shape-rendering="crispEdges" />
<circle cx="1047.5" cy="417.5" r="3.5" fill="#008000"/>
<polyline points="1033,418 1048,418" stroke="#008000" stroke-width="2" fill="none" stroke-linejoin="round" shape-rendering="crispEdges" />
<g transform="translate(1033 418) rotate(90)">
<polyline points="0,0 0,15" stroke="#800000" stroke-width="2" fill="none" stroke-linejoin="round" shape-rendering="crispEdges" />
<polyline points="-12,15 12,15" stroke="#800000" stroke-width="2" fill="none" stroke-linejoin="round" shape-rendering="crispEdges" />
</g>
<text x="1011.5" y="434" font-family="Liberation Sans, Arial, sans-serif" font-size="14.1" fill="#585858" text-anchor="start" font-weight="normal" transform="rotate(-90 1011.5 434)" stroke="#fff" stroke-width="0.35">GND</text>
<polyline points="1078,463 988,463 988,762 1198,762 1198,702" stroke="#008000" stroke-width="2" fill="none" stroke-linejoin="round" shape-rendering="crispEdges" />
<polyline points="1018,493 1078,493" stroke="#008000" stroke-width="2" fill="none" stroke-linejoin="round" shape-rendering="crispEdges" />
<text x="1017.5" y="492" font-family="Liberation Sans, Arial, sans-serif" font-size="14.5" fill="#585858" text-anchor="start" font-weight="normal" stroke="#fff" stroke-width="0.35">M3B</text>
<polyline points="1078,523 1078,658" stroke="#008000" stroke-width="2" fill="none" stroke-linejoin="round" shape-rendering="crispEdges" />
<g transform="translate(1078 658) rotate(180)">
<polyline points="0,0 0,-16" stroke="#800000" stroke-width="2" fill="none" stroke-linejoin="round" shape-rendering="crispEdges" />
<polyline points="-5.5,-6.5 5.5,-6.5 0,-16 -5.5,-6.5" stroke="#800000" stroke-width="2" fill="none" stroke-linejoin="round" shape-rendering="crispEdges" />
</g>
<circle cx="1077.5" cy="567.5" r="3.5" fill="#008000"/>
<polyline points="1078,568 1033,568 1033,598" stroke="#008000" stroke-width="2" fill="none" stroke-linejoin="round" shape-rendering="crispEdges" />
<g transform="translate(1033 613) rotate(0)">
<polyline points="0,-15 0,0" stroke="#800000" stroke-width="2" fill="none" stroke-linejoin="round" shape-rendering="crispEdges" />
<polyline points="-16,0 16,0" stroke="#800000" stroke-width="2" fill="none" stroke-linejoin="round" shape-rendering="crispEdges" />
<polyline points="0,5 0,30" stroke="#800000" stroke-width="2" fill="none" stroke-linejoin="round" shape-rendering="crispEdges" />
<path d="M-15,11 A21.75,21.75 0 0 1 15,11" stroke="#800000" stroke-width="2.4" fill="none" shape-rendering="crispEdges"/>
<polyline points="-14.5,-5.2 -7.5,-5.2" stroke="#800000" stroke-width="1.5" fill="none" stroke-linejoin="round" />
<polyline points="-11,-8.4 -11,-2.2" stroke="#800000" stroke-width="1.5" fill="none" stroke-linejoin="round" />
</g>
<polyline points="1033,643 1033,658" stroke="#008000" stroke-width="2" fill="none" stroke-linejoin="round" shape-rendering="crispEdges" />
<g transform="translate(1033 658) rotate(0)">
<polyline points="0,0 0,15" stroke="#800000" stroke-width="2" fill="none" stroke-linejoin="round" shape-rendering="crispEdges" />
<polyline points="-12,15 12,15" stroke="#800000" stroke-width="2" fill="none" stroke-linejoin="round" shape-rendering="crispEdges" />
</g>
<text x="1038.5" y="608" font-family="Liberation Sans, Arial, sans-serif" font-size="14.1" fill="#585858" text-anchor="start" font-weight="normal" stroke="#fff" stroke-width="0.35">C8</text>
<text x="1039" y="636" font-family="Liberation Sans, Arial, sans-serif" font-size="13.9" fill="#585858" text-anchor="start" font-weight="normal" stroke="#fff" stroke-width="0.35">100uF/16V</text>
<text x="1017.5" y="686" font-family="Liberation Sans, Arial, sans-serif" font-size="14.1" fill="#585858" text-anchor="start" font-weight="normal" stroke="#fff" stroke-width="0.35">GND</text>
<text x="1100.5" y="676" font-family="Liberation Sans, Arial, sans-serif" font-size="14.5" fill="#585858" text-anchor="start" font-weight="normal" transform="rotate(-90 1100.5 676)" stroke="#fff" stroke-width="0.35">V+</text>
<g transform="translate(1273 253) rotate(0)">
<polyline points="0,0 0,-15" stroke="#800000" stroke-width="2" fill="none" stroke-linejoin="round" shape-rendering="crispEdges" />
<polyline points="-7.7,-3.2 0,-15 7.7,-3.2" stroke="#800000" stroke-width="2" fill="none" stroke-linejoin="round" shape-rendering="crispEdges" />
</g>
<polyline points="1273,253 1273,313" stroke="#008000" stroke-width="2" fill="none" stroke-linejoin="round" shape-rendering="crispEdges" />
<polyline points="1273,268 1288,268" stroke="#008000" stroke-width="2" fill="none" stroke-linejoin="round" shape-rendering="crispEdges" />
<g transform="translate(1303 268) rotate(-90)">
<polyline points="0,-15 0,0" stroke="#800000" stroke-width="2" fill="none" stroke-linejoin="round" shape-rendering="crispEdges" />
<polyline points="-16,0 16,0" stroke="#800000" stroke-width="2" fill="none" stroke-linejoin="round" shape-rendering="crispEdges" />
<polyline points="0,5 0,30" stroke="#800000" stroke-width="2" fill="none" stroke-linejoin="round" shape-rendering="crispEdges" />
<path d="M-15,11 A21.75,21.75 0 0 1 15,11" stroke="#800000" stroke-width="2.4" fill="none" shape-rendering="crispEdges"/>
</g>
<polyline points="1332,268 1362,268 1362,313" stroke="#008000" stroke-width="2" fill="none" stroke-linejoin="round" shape-rendering="crispEdges" />
<polyline points="1258,313 1302,313" stroke="#008000" stroke-width="2" fill="none" stroke-linejoin="round" shape-rendering="crispEdges" />
<g transform="translate(1317 313) rotate(-90)">
<polyline points="0,-15 0,0" stroke="#800000" stroke-width="2" fill="none" stroke-linejoin="round" shape-rendering="crispEdges" />
<polyline points="-16,0 16,0" stroke="#800000" stroke-width="2" fill="none" stroke-linejoin="round" shape-rendering="crispEdges" />
<polyline points="0,5 0,30" stroke="#800000" stroke-width="2" fill="none" stroke-linejoin="round" shape-rendering="crispEdges" />
<path d="M-15,11 A21.75,21.75 0 0 1 15,11" stroke="#800000" stroke-width="2.4" fill="none" shape-rendering="crispEdges"/>
<polyline points="-14.5,-5.2 -7.5,-5.2" stroke="#800000" stroke-width="1.5" fill="none" stroke-linejoin="round" />
<polyline points="-11,-8.4 -11,-2.2" stroke="#800000" stroke-width="1.5" fill="none" stroke-linejoin="round" />
</g>
<polyline points="1347,313 1377,313" stroke="#008000" stroke-width="2" fill="none" stroke-linejoin="round" shape-rendering="crispEdges" />
<g transform="translate(1377 313) rotate(-90)">
<polyline points="0,0 0,15" stroke="#800000" stroke-width="2" fill="none" stroke-linejoin="round" shape-rendering="crispEdges" />
<polyline points="-12,15 12,15" stroke="#800000" stroke-width="2" fill="none" stroke-linejoin="round" shape-rendering="crispEdges" />
</g>
<circle cx="1272.5" cy="267.5" r="3.5" fill="#008000"/>
<circle cx="1272.5" cy="312.5" r="3.5" fill="#008000"/>
<circle cx="1361.5" cy="312.5" r="3.5" fill="#008000"/>
<text x="1256.5" y="253" font-family="Liberation Sans, Arial, sans-serif" font-size="14.5" fill="#585858" text-anchor="start" font-weight="normal" transform="rotate(-90 1256.5 253)" stroke="#fff" stroke-width="0.35">VCC</text>
<text x="1297.5" y="262.5" font-family="Liberation Sans, Arial, sans-serif" font-size="14.1" fill="#585858" text-anchor="start" font-weight="normal" transform="rotate(-90 1297.5 262.5)" stroke="#fff" stroke-width="0.35">C6</text>
<text x="1340.5" y="305" font-family="Liberation Sans, Arial, sans-serif" font-size="13.9" fill="#585858" text-anchor="start" font-weight="normal" transform="rotate(-90 1340.5 305)" stroke="#fff" stroke-width="0.35">100uF/6V</text>
<text x="1312" y="306.5" font-family="Liberation Sans, Arial, sans-serif" font-size="14.1" fill="#585858" text-anchor="start" font-weight="normal" transform="rotate(-90 1312 306.5)" stroke="#fff" stroke-width="0.35">C5</text>
<text x="1405.5" y="327.5" font-family="Liberation Sans, Arial, sans-serif" font-size="14.1" fill="#585858" text-anchor="start" font-weight="normal" transform="rotate(-90 1405.5 327.5)" stroke="#fff" stroke-width="0.35">GND</text>
<polyline points="1258,343 1318,343" stroke="#008000" stroke-width="2" fill="none" stroke-linejoin="round" shape-rendering="crispEdges" />
<text x="1258" y="342" font-family="Liberation Sans, Arial, sans-serif" font-size="14.5" fill="#585858" text-anchor="start" font-weight="normal" stroke="#fff" stroke-width="0.35">M4A</text>
<polyline points="1258,373 1407,373 1407,762 1258,762 1258,702" stroke="#008000" stroke-width="2" fill="none" stroke-linejoin="round" shape-rendering="crispEdges" />
<polyline points="1258,403 1288,403 1288,433 1258,433" stroke="#008000" stroke-width="2" fill="none" stroke-linejoin="round" shape-rendering="crispEdges" />
<circle cx="1287.5" cy="417.5" r="3.5" fill="#008000"/>
<polyline points="1288,418 1303,418" stroke="#008000" stroke-width="2" fill="none" stroke-linejoin="round" shape-rendering="crispEdges" />
<g transform="translate(1303 418) rotate(-90)">
<polyline points="0,0 0,15" stroke="#800000" stroke-width="2" fill="none" stroke-linejoin="round" shape-rendering="crispEdges" />
<polyline points="-12,15 12,15" stroke="#800000" stroke-width="2" fill="none" stroke-linejoin="round" shape-rendering="crispEdges" />
</g>
<text x="1330.5" y="432" font-family="Liberation Sans, Arial, sans-serif" font-size="14.1" fill="#585858" text-anchor="start" font-weight="normal" transform="rotate(-90 1330.5 432)" stroke="#fff" stroke-width="0.35">GND</text>
<polyline points="1258,463 1392,463 1392,702 1288,702" stroke="#008000" stroke-width="2" fill="none" stroke-linejoin="round" shape-rendering="crispEdges" />
<polyline points="1258,493 1318,493" stroke="#008000" stroke-width="2" fill="none" stroke-linejoin="round" shape-rendering="crispEdges" />
<text x="1258" y="492" font-family="Liberation Sans, Arial, sans-serif" font-size="14.5" fill="#585858" text-anchor="start" font-weight="normal" stroke="#fff" stroke-width="0.35">M4B</text>
<rect x="1108" y="298" width="120" height="240" stroke="#800000" stroke-width="2" fill="none" shape-rendering="crispEdges" class="b"/>
<text x="1107.5" y="290.3" font-family="Liberation Sans, Arial, sans-serif" font-size="14.1" fill="#585858" text-anchor="start" font-weight="normal" stroke="#fff" stroke-width="0.35">IC2</text>
<polyline points="1078,313 1108,313" stroke="#800000" stroke-width="2" fill="none" stroke-linejoin="round" shape-rendering="crispEdges" />
<polyline points="1228,313 1258,313" stroke="#800000" stroke-width="2" fill="none" stroke-linejoin="round" shape-rendering="crispEdges" />
<text x="1092.5" y="309.7" font-family="Liberation Sans, Arial, sans-serif" font-size="12.5" fill="#585858" text-anchor="end" font-weight="normal" stroke="#fff" stroke-width="0.2">1</text>
<text x="1240.5" y="309.7" font-family="Liberation Sans, Arial, sans-serif" font-size="12.5" fill="#585858" text-anchor="start" font-weight="normal" stroke="#fff" stroke-width="0.2">16</text>
<text x="1120.5" y="316" font-family="Liberation Sans, Arial, sans-serif" font-size="12.5" fill="#585858" text-anchor="start" font-weight="normal" stroke="#fff" stroke-width="0.2">1-2EN</text>
<text x="1213.5" y="316" font-family="Liberation Sans, Arial, sans-serif" font-size="12.5" fill="#585858" text-anchor="end" font-weight="normal" stroke="#fff" stroke-width="0.2">VCC1</text>
<polyline points="1078,343 1108,343" stroke="#800000" stroke-width="2" fill="none" stroke-linejoin="round" shape-rendering="crispEdges" />
<polyline points="1228,343 1258,343" stroke="#800000" stroke-width="2" fill="none" stroke-linejoin="round" shape-rendering="crispEdges" />
<text x="1092.5" y="339.7" font-family="Liberation Sans, Arial, sans-serif" font-size="12.5" fill="#585858" text-anchor="end" font-weight="normal" stroke="#fff" stroke-width="0.2">2</text>
<text x="1240.5" y="339.7" font-family="Liberation Sans, Arial, sans-serif" font-size="12.5" fill="#585858" text-anchor="start" font-weight="normal" stroke="#fff" stroke-width="0.2">15</text>
<text x="1120.5" y="346" font-family="Liberation Sans, Arial, sans-serif" font-size="12.5" fill="#585858" text-anchor="start" font-weight="normal" stroke="#fff" stroke-width="0.2">1A</text>
<text x="1213.5" y="346" font-family="Liberation Sans, Arial, sans-serif" font-size="12.5" fill="#585858" text-anchor="end" font-weight="normal" stroke="#fff" stroke-width="0.2">4A</text>
<polyline points="1078,373 1108,373" stroke="#800000" stroke-width="2" fill="none" stroke-linejoin="round" shape-rendering="crispEdges" />
<polyline points="1228,373 1258,373" stroke="#800000" stroke-width="2" fill="none" stroke-linejoin="round" shape-rendering="crispEdges" />
<text x="1092.5" y="369.7" font-family="Liberation Sans, Arial, sans-serif" font-size="12.5" fill="#585858" text-anchor="end" font-weight="normal" stroke="#fff" stroke-width="0.2">3</text>
<text x="1240.5" y="369.7" font-family="Liberation Sans, Arial, sans-serif" font-size="12.5" fill="#585858" text-anchor="start" font-weight="normal" stroke="#fff" stroke-width="0.2">14</text>
<text x="1120.5" y="376" font-family="Liberation Sans, Arial, sans-serif" font-size="12.5" fill="#585858" text-anchor="start" font-weight="normal" stroke="#fff" stroke-width="0.2">1Y</text>
<text x="1213.5" y="376" font-family="Liberation Sans, Arial, sans-serif" font-size="12.5" fill="#585858" text-anchor="end" font-weight="normal" stroke="#fff" stroke-width="0.2">4Y</text>
<polyline points="1078,403 1108,403" stroke="#800000" stroke-width="2" fill="none" stroke-linejoin="round" shape-rendering="crispEdges" />
<polyline points="1228,403 1258,403" stroke="#800000" stroke-width="2" fill="none" stroke-linejoin="round" shape-rendering="crispEdges" />
<text x="1092.5" y="399.7" font-family="Liberation Sans, Arial, sans-serif" font-size="12.5" fill="#585858" text-anchor="end" font-weight="normal" stroke="#fff" stroke-width="0.2">4</text>
<text x="1240.5" y="399.7" font-family="Liberation Sans, Arial, sans-serif" font-size="12.5" fill="#585858" text-anchor="start" font-weight="normal" stroke="#fff" stroke-width="0.2">13</text>
<text x="1120.5" y="406" font-family="Liberation Sans, Arial, sans-serif" font-size="12.5" fill="#585858" text-anchor="start" font-weight="normal" stroke="#fff" stroke-width="0.2">GND1</text>
<text x="1213.5" y="406" font-family="Liberation Sans, Arial, sans-serif" font-size="12.5" fill="#585858" text-anchor="end" font-weight="normal" stroke="#fff" stroke-width="0.2">GND3</text>
<polyline points="1078,433 1108,433" stroke="#800000" stroke-width="2" fill="none" stroke-linejoin="round" shape-rendering="crispEdges" />
<polyline points="1228,433 1258,433" stroke="#800000" stroke-width="2" fill="none" stroke-linejoin="round" shape-rendering="crispEdges" />
<text x="1092.5" y="429.7" font-family="Liberation Sans, Arial, sans-serif" font-size="12.5" fill="#585858" text-anchor="end" font-weight="normal" stroke="#fff" stroke-width="0.2">5</text>
<text x="1240.5" y="429.7" font-family="Liberation Sans, Arial, sans-serif" font-size="12.5" fill="#585858" text-anchor="start" font-weight="normal" stroke="#fff" stroke-width="0.2">12</text>
<text x="1120.5" y="436" font-family="Liberation Sans, Arial, sans-serif" font-size="12.5" fill="#585858" text-anchor="start" font-weight="normal" stroke="#fff" stroke-width="0.2">GND2</text>
<text x="1213.5" y="436" font-family="Liberation Sans, Arial, sans-serif" font-size="12.5" fill="#585858" text-anchor="end" font-weight="normal" stroke="#fff" stroke-width="0.2">GND4</text>
<polyline points="1078,463 1108,463" stroke="#800000" stroke-width="2" fill="none" stroke-linejoin="round" shape-rendering="crispEdges" />
<polyline points="1228,463 1258,463" stroke="#800000" stroke-width="2" fill="none" stroke-linejoin="round" shape-rendering="crispEdges" />
<text x="1092.5" y="459.7" font-family="Liberation Sans, Arial, sans-serif" font-size="12.5" fill="#585858" text-anchor="end" font-weight="normal" stroke="#fff" stroke-width="0.2">6</text>
<text x="1240.5" y="459.7" font-family="Liberation Sans, Arial, sans-serif" font-size="12.5" fill="#585858" text-anchor="start" font-weight="normal" stroke="#fff" stroke-width="0.2">11</text>
<text x="1120.5" y="466" font-family="Liberation Sans, Arial, sans-serif" font-size="12.5" fill="#585858" text-anchor="start" font-weight="normal" stroke="#fff" stroke-width="0.2">2Y</text>
<text x="1213.5" y="466" font-family="Liberation Sans, Arial, sans-serif" font-size="12.5" fill="#585858" text-anchor="end" font-weight="normal" stroke="#fff" stroke-width="0.2">3Y</text>
<polyline points="1078,493 1108,493" stroke="#800000" stroke-width="2" fill="none" stroke-linejoin="round" shape-rendering="crispEdges" />
<polyline points="1228,493 1258,493" stroke="#800000" stroke-width="2" fill="none" stroke-linejoin="round" shape-rendering="crispEdges" />
<text x="1092.5" y="489.7" font-family="Liberation Sans, Arial, sans-serif" font-size="12.5" fill="#585858" text-anchor="end" font-weight="normal" stroke="#fff" stroke-width="0.2">7</text>
<text x="1240.5" y="489.7" font-family="Liberation Sans, Arial, sans-serif" font-size="12.5" fill="#585858" text-anchor="start" font-weight="normal" stroke="#fff" stroke-width="0.2">10</text>
<text x="1120.5" y="496" font-family="Liberation Sans, Arial, sans-serif" font-size="12.5" fill="#585858" text-anchor="start" font-weight="normal" stroke="#fff" stroke-width="0.2">2A</text>
<text x="1213.5" y="496" font-family="Liberation Sans, Arial, sans-serif" font-size="12.5" fill="#585858" text-anchor="end" font-weight="normal" stroke="#fff" stroke-width="0.2">3A</text>
<polyline points="1078,523 1108,523" stroke="#800000" stroke-width="2" fill="none" stroke-linejoin="round" shape-rendering="crispEdges" />
<polyline points="1228,523 1258,523" stroke="#800000" stroke-width="2" fill="none" stroke-linejoin="round" shape-rendering="crispEdges" />
<text x="1092.5" y="519.7" font-family="Liberation Sans, Arial, sans-serif" font-size="12.5" fill="#585858" text-anchor="end" font-weight="normal" stroke="#fff" stroke-width="0.2">8</text>
<text x="1240.5" y="519.7" font-family="Liberation Sans, Arial, sans-serif" font-size="12.5" fill="#585858" text-anchor="start" font-weight="normal" stroke="#fff" stroke-width="0.2">9</text>
<text x="1120.5" y="526" font-family="Liberation Sans, Arial, sans-serif" font-size="12.5" fill="#585858" text-anchor="start" font-weight="normal" stroke="#fff" stroke-width="0.2">VCC2</text>
<text x="1213.5" y="526" font-family="Liberation Sans, Arial, sans-serif" font-size="12.5" fill="#585858" text-anchor="end" font-weight="normal" stroke="#fff" stroke-width="0.2">3-4EN</text>
<text x="911" y="642" font-family="Liberation Sans, Arial, sans-serif" font-size="14.5" fill="#800000" text-anchor="start" font-weight="normal" transform="rotate(-90 911 642)">Stepper / 2 DC-motor driver #2</text>
<rect x="1152.5" y="628" width="149.5" height="45" stroke="#800000" stroke-width="2" fill="none" shape-rendering="crispEdges" class="b"/>
<polyline points="1168,673 1168,702" stroke="#800000" stroke-width="2" fill="none" stroke-linejoin="round" shape-rendering="crispEdges" />
<text x="1170.8" y="659" font-family="Liberation Sans, Arial, sans-serif" font-size="12.5" fill="#585858" text-anchor="start" font-weight="normal" transform="rotate(-90 1170.8 659)" stroke="#fff" stroke-width="0.2">P5</text>
<polyline points="1198,673 1198,702" stroke="#800000" stroke-width="2" fill="none" stroke-linejoin="round" shape-rendering="crispEdges" />
<text x="1200.8" y="659" font-family="Liberation Sans, Arial, sans-serif" font-size="12.5" fill="#585858" text-anchor="start" font-weight="normal" transform="rotate(-90 1200.8 659)" stroke="#fff" stroke-width="0.2">P4</text>
<polyline points="1228,673 1228,702" stroke="#800000" stroke-width="2" fill="none" stroke-linejoin="round" shape-rendering="crispEdges" />
<text x="1230.8" y="659" font-family="Liberation Sans, Arial, sans-serif" font-size="12.5" fill="#585858" text-anchor="start" font-weight="normal" transform="rotate(-90 1230.8 659)" stroke="#fff" stroke-width="0.2">P3</text>
<polyline points="1258,673 1258,702" stroke="#800000" stroke-width="2" fill="none" stroke-linejoin="round" shape-rendering="crispEdges" />
<text x="1260.8" y="659" font-family="Liberation Sans, Arial, sans-serif" font-size="12.5" fill="#585858" text-anchor="start" font-weight="normal" transform="rotate(-90 1260.8 659)" stroke="#fff" stroke-width="0.2">P2</text>
<polyline points="1288,673 1288,702" stroke="#800000" stroke-width="2" fill="none" stroke-linejoin="round" shape-rendering="crispEdges" />
<text x="1290.8" y="659" font-family="Liberation Sans, Arial, sans-serif" font-size="12.5" fill="#585858" text-anchor="start" font-weight="normal" transform="rotate(-90 1290.8 659)" stroke="#fff" stroke-width="0.2">P1</text>
<text x="1212" y="613" font-family="DejaVu Sans Mono, Liberation Mono, monospace" font-size="12" fill="#7d7d7d" text-anchor="start" font-weight="bold" textLength="13.5" lengthAdjust="spacingAndGlyphs" stroke="#7d7d7d" stroke-width="0.5">X2</text>
<g transform="translate(1123 687) rotate(180)">
<polyline points="0,-15 0,0" stroke="#800000" stroke-width="2" fill="none" stroke-linejoin="round" shape-rendering="crispEdges" />
<polyline points="-16,0 16,0" stroke="#800000" stroke-width="2" fill="none" stroke-linejoin="round" shape-rendering="crispEdges" />
<polyline points="0,5 0,30" stroke="#800000" stroke-width="2" fill="none" stroke-linejoin="round" shape-rendering="crispEdges" />
<path d="M-15,11 A21.75,21.75 0 0 1 15,11" stroke="#800000" stroke-width="2.4" fill="none" shape-rendering="crispEdges"/>
</g>
<g transform="translate(1123 658) rotate(180)">
<polyline points="0,0 0,15" stroke="#800000" stroke-width="2" fill="none" stroke-linejoin="round" shape-rendering="crispEdges" />
<polyline points="-12,15 12,15" stroke="#800000" stroke-width="2" fill="none" stroke-linejoin="round" shape-rendering="crispEdges" />
</g>
<g transform="translate(1362 687) rotate(180)">
<polyline points="0,-15 0,0" stroke="#800000" stroke-width="2" fill="none" stroke-linejoin="round" shape-rendering="crispEdges" />
<polyline points="-16,0 16,0" stroke="#800000" stroke-width="2" fill="none" stroke-linejoin="round" shape-rendering="crispEdges" />
<polyline points="0,5 0,30" stroke="#800000" stroke-width="2" fill="none" stroke-linejoin="round" shape-rendering="crispEdges" />
<path d="M-15,11 A21.75,21.75 0 0 1 15,11" stroke="#800000" stroke-width="2.4" fill="none" shape-rendering="crispEdges"/>
</g>
<g transform="translate(1362 658) rotate(180)">
<polyline points="0,0 0,15" stroke="#800000" stroke-width="2" fill="none" stroke-linejoin="round" shape-rendering="crispEdges" />
<polyline points="-12,15 12,15" stroke="#800000" stroke-width="2" fill="none" stroke-linejoin="round" shape-rendering="crispEdges" />
</g>
<circle cx="1122.5" cy="701.5" r="3.5" fill="#008000"/>
<circle cx="1167.5" cy="701.5" r="3.5" fill="#008000"/>
<circle cx="1197.5" cy="701.5" r="3.5" fill="#008000"/>
<circle cx="1361.5" cy="701.5" r="3.5" fill="#008000"/>
<text x="1106" y="636" font-family="Liberation Sans, Arial, sans-serif" font-size="14.1" fill="#585858" text-anchor="start" font-weight="normal" stroke="#fff" stroke-width="0.35">GND</text>
<text x="1080" y="672" font-family="Liberation Sans, Arial, sans-serif" font-size="13.9" fill="#585858" text-anchor="start" font-weight="normal" stroke="#fff" stroke-width="0.35">0.1uF</text>
<text x="1090" y="700" font-family="Liberation Sans, Arial, sans-serif" font-size="14.1" fill="#585858" text-anchor="start" font-weight="normal" stroke="#fff" stroke-width="0.35">C23</text>
<text x="1344.5" y="637" font-family="Liberation Sans, Arial, sans-serif" font-size="14.1" fill="#585858" text-anchor="start" font-weight="normal" stroke="#fff" stroke-width="0.35">GND</text>
<text x="1318.5" y="672" font-family="Liberation Sans, Arial, sans-serif" font-size="13.9" fill="#585858" text-anchor="start" font-weight="normal" stroke="#fff" stroke-width="0.35">0.1uF</text>
<text x="1328.5" y="700" font-family="Liberation Sans, Arial, sans-serif" font-size="14.1" fill="#585858" text-anchor="start" font-weight="normal" stroke="#fff" stroke-width="0.35">C20</text>
<g transform="translate(1228 702) rotate(0)">
<polyline points="0,0 0,15" stroke="#800000" stroke-width="2" fill="none" stroke-linejoin="round" shape-rendering="crispEdges" />
<polyline points="-12,15 12,15" stroke="#800000" stroke-width="2" fill="none" stroke-linejoin="round" shape-rendering="crispEdges" />
</g>
<text x="1212.5" y="730.5" font-family="Liberation Sans, Arial, sans-serif" font-size="14.1" fill="#585858" text-anchor="start" font-weight="normal" stroke="#fff" stroke-width="0.35">GND</text>
<circle cx="1106.5" cy="761.5" r="3.5" fill="#008000"/>
<g transform="translate(1107 777) rotate(0)">
<polyline points="0,-15 0,0" stroke="#800000" stroke-width="2" fill="none" stroke-linejoin="round" shape-rendering="crispEdges" />
<polyline points="-16,0 16,0" stroke="#800000" stroke-width="2" fill="none" stroke-linejoin="round" shape-rendering="crispEdges" />
<polyline points="0,5 0,30" stroke="#800000" stroke-width="2" fill="none" stroke-linejoin="round" shape-rendering="crispEdges" />
<path d="M-15,11 A21.75,21.75 0 0 1 15,11" stroke="#800000" stroke-width="2.4" fill="none" shape-rendering="crispEdges"/>
</g>
<g transform="translate(1107 807) rotate(0)">
<polyline points="0,0 0,15" stroke="#800000" stroke-width="2" fill="none" stroke-linejoin="round" shape-rendering="crispEdges" />
<polyline points="-12,15 12,15" stroke="#800000" stroke-width="2" fill="none" stroke-linejoin="round" shape-rendering="crispEdges" />
</g>
<text x="1113.5" y="773" font-family="Liberation Sans, Arial, sans-serif" font-size="14.1" fill="#585858" text-anchor="start" font-weight="normal" stroke="#fff" stroke-width="0.35">C22</text>
<text x="1113.5" y="800.5" font-family="Liberation Sans, Arial, sans-serif" font-size="13.9" fill="#585858" text-anchor="start" font-weight="normal" stroke="#fff" stroke-width="0.35">0.1uF</text>
<text x="1092" y="835.5" font-family="Liberation Sans, Arial, sans-serif" font-size="14.1" fill="#585858" text-anchor="start" font-weight="normal" stroke="#fff" stroke-width="0.35">GND</text>
<circle cx="1361.5" cy="761.5" r="3.5" fill="#008000"/>
<g transform="translate(1362 777) rotate(0)">
<polyline points="0,-15 0,0" stroke="#800000" stroke-width="2" fill="none" stroke-linejoin="round" shape-rendering="crispEdges" />
<polyline points="-16,0 16,0" stroke="#800000" stroke-width="2" fill="none" stroke-linejoin="round" shape-rendering="crispEdges" />
<polyline points="0,5 0,30" stroke="#800000" stroke-width="2" fill="none" stroke-linejoin="round" shape-rendering="crispEdges" />
<path d="M-15,11 A21.75,21.75 0 0 1 15,11" stroke="#800000" stroke-width="2.4" fill="none" shape-rendering="crispEdges"/>
</g>
<g transform="translate(1362 807) rotate(0)">
<polyline points="0,0 0,15" stroke="#800000" stroke-width="2" fill="none" stroke-linejoin="round" shape-rendering="crispEdges" />
<polyline points="-12,15 12,15" stroke="#800000" stroke-width="2" fill="none" stroke-linejoin="round" shape-rendering="crispEdges" />
</g>
<text x="1368" y="773" font-family="Liberation Sans, Arial, sans-serif" font-size="14.1" fill="#585858" text-anchor="start" font-weight="normal" stroke="#fff" stroke-width="0.35">C21</text>
<text x="1368" y="800.5" font-family="Liberation Sans, Arial, sans-serif" font-size="13.9" fill="#585858" text-anchor="start" font-weight="normal" stroke="#fff" stroke-width="0.35">0.1uF</text>
<text x="1347" y="835.5" font-family="Liberation Sans, Arial, sans-serif" font-size="14.1" fill="#585858" text-anchor="start" font-weight="normal" stroke="#fff" stroke-width="0.35">GND</text>
<rect x="193.5" y="851.5" width="90" height="165" stroke="#800000" stroke-width="3" fill="none" shape-rendering="crispEdges" class="b"/>
<text x="192.7" y="848.3" font-family="DejaVu Sans Mono, Liberation Mono, monospace" font-size="13.5" fill="#7d7d7d" text-anchor="start" font-weight="bold" textLength="25.5" lengthAdjust="spacingAndGlyphs" stroke="#7d7d7d" stroke-width="0.4">IC3</text>
<text x="194" y="1031" font-family="Liberation Sans, Arial, sans-serif" font-size="14.1" fill="#585858" text-anchor="start" font-weight="normal" stroke="#fff" stroke-width="0.35">74HCT595N</text>
<polyline points="73,867 164,867" stroke="#008000" stroke-width="2" fill="none" stroke-linejoin="round" shape-rendering="crispEdges" />
<text x="73" y="866" font-family="Liberation Sans, Arial, sans-serif" font-size="14.5" fill="#585858" text-anchor="start" font-weight="normal" stroke="#fff" stroke-width="0.35">DIR_SER</text>
<polyline points="164,867 193,867" stroke="#800000" stroke-width="2" fill="none" stroke-linejoin="round" shape-rendering="crispEdges" />
<text x="179.5" y="864" font-family="Liberation Sans, Arial, sans-serif" font-size="12.5" fill="#585858" text-anchor="end" font-weight="normal" stroke="#fff" stroke-width="0.2">14</text>
<text x="207.5" y="871.3" font-family="Liberation Sans, Arial, sans-serif" font-size="12.5" fill="#585858" text-anchor="start" font-weight="normal" stroke="#fff" stroke-width="0.2">SER</text>
<polyline points="73,897 164,897" stroke="#008000" stroke-width="2" fill="none" stroke-linejoin="round" shape-rendering="crispEdges" />
<text x="73" y="896" font-family="Liberation Sans, Arial, sans-serif" font-size="14.5" fill="#585858" text-anchor="start" font-weight="normal" stroke="#fff" stroke-width="0.35">DIR_CLK</text>
<polyline points="164,897 193,897" stroke="#800000" stroke-width="2" fill="none" stroke-linejoin="round" shape-rendering="crispEdges" />
<polyline points="193.5,891 205,897 193.5,903" stroke="#800000" stroke-width="2.5" fill="none" stroke-linejoin="round" shape-rendering="crispEdges" />
<text x="179.5" y="894" font-family="Liberation Sans, Arial, sans-serif" font-size="12.5" fill="#585858" text-anchor="end" font-weight="normal" stroke="#fff" stroke-width="0.2">11</text>
<text x="207.5" y="901.3" font-family="Liberation Sans, Arial, sans-serif" font-size="12.5" fill="#585858" text-anchor="start" font-weight="normal" stroke="#fff" stroke-width="0.2">SCK</text>
<polyline points="164,912 182,912" stroke="#800000" stroke-width="2" fill="none" stroke-linejoin="round" shape-rendering="crispEdges" />
<circle cx="187" cy="912" r="5" stroke="#800000" stroke-width="2" fill="none"/>
<text x="179.5" y="909" font-family="Liberation Sans, Arial, sans-serif" font-size="12.5" fill="#585858" text-anchor="end" font-weight="normal" stroke="#fff" stroke-width="0.2">10</text>
<text x="207.5" y="916.3" font-family="Liberation Sans, Arial, sans-serif" font-size="12.5" fill="#585858" text-anchor="start" font-weight="normal" stroke="#fff" stroke-width="0.2">SCL</text>
<polyline points="73,942 164,942" stroke="#008000" stroke-width="2" fill="none" stroke-linejoin="round" shape-rendering="crispEdges" />
<text x="73" y="941" font-family="Liberation Sans, Arial, sans-serif" font-size="14.5" fill="#585858" text-anchor="start" font-weight="normal" stroke="#fff" stroke-width="0.35">DIR_LATCH</text>
<polyline points="164,942 193,942" stroke="#800000" stroke-width="2" fill="none" stroke-linejoin="round" shape-rendering="crispEdges" />
<polyline points="193.5,936 205,942 193.5,948" stroke="#800000" stroke-width="2.5" fill="none" stroke-linejoin="round" shape-rendering="crispEdges" />
<text x="179.5" y="939" font-family="Liberation Sans, Arial, sans-serif" font-size="12.5" fill="#585858" text-anchor="end" font-weight="normal" stroke="#fff" stroke-width="0.2">12</text>
<text x="207.5" y="946.3" font-family="Liberation Sans, Arial, sans-serif" font-size="12.5" fill="#585858" text-anchor="start" font-weight="normal" stroke="#fff" stroke-width="0.2">RCK</text>
<polyline points="73,1002 164,1002" stroke="#008000" stroke-width="2" fill="none" stroke-linejoin="round" shape-rendering="crispEdges" />
<text x="73" y="1001" font-family="Liberation Sans, Arial, sans-serif" font-size="14.5" fill="#585858" text-anchor="start" font-weight="normal" stroke="#fff" stroke-width="0.35">DIR_EN</text>
<polyline points="164,1002 182,1002" stroke="#800000" stroke-width="2" fill="none" stroke-linejoin="round" shape-rendering="crispEdges" />
<circle cx="187" cy="1002" r="5" stroke="#800000" stroke-width="2" fill="none"/>
<text x="179.5" y="999" font-family="Liberation Sans, Arial, sans-serif" font-size="12.5" fill="#585858" text-anchor="end" font-weight="normal" stroke="#fff" stroke-width="0.2">13</text>
<text x="207.5" y="1006.3" font-family="Liberation Sans, Arial, sans-serif" font-size="12.5" fill="#585858" text-anchor="start" font-weight="normal" stroke="#fff" stroke-width="0.2">G</text>
<polyline points="59,912 164,912" stroke="#008000" stroke-width="2" fill="none" stroke-linejoin="round" shape-rendering="crispEdges" />
<g transform="translate(59 912) rotate(-90)">
<polyline points="0,0 0,-15" stroke="#800000" stroke-width="2" fill="none" stroke-linejoin="round" shape-rendering="crispEdges" />
<polyline points="-7.7,-3.2 0,-15 7.7,-3.2" stroke="#800000" stroke-width="2" fill="none" stroke-linejoin="round" shape-rendering="crispEdges" />
</g>
<text x="27.5" y="936" font-family="Liberation Sans, Arial, sans-serif" font-size="14.5" fill="#585858" text-anchor="start" font-weight="normal" stroke="#fff" stroke-width="0.35">VCC</text>
<circle cx="163.5" cy="1001.5" r="3.5" fill="#008000"/>
<polyline points="164,1002 164,1017" stroke="#800000" stroke-width="2" fill="none" stroke-linejoin="round" shape-rendering="crispEdges" />
<g transform="translate(164 1032) rotate(90)">
<polyline points="-15,0 -12.75,-5.8 -9,5.8 -5.25,-5.8 -1.5,5.8 2.25,-5.8 6,5.8 9.75,-5.8 13.5,5.8 15,0" stroke="#800000" stroke-width="2.3" fill="none" stroke-linejoin="round" />
</g>
<polyline points="164,1047 164,1063" stroke="#800000" stroke-width="2" fill="none" stroke-linejoin="round" shape-rendering="crispEdges" />
<g transform="translate(164 1063) rotate(180)">
<polyline points="0,0 0,-15" stroke="#800000" stroke-width="2" fill="none" stroke-linejoin="round" shape-rendering="crispEdges" />
<polyline points="-7.7,-3.2 0,-15 7.7,-3.2" stroke="#800000" stroke-width="2" fill="none" stroke-linejoin="round" shape-rendering="crispEdges" />
</g>
<text x="153.5" y="1054" font-family="Liberation Sans, Arial, sans-serif" font-size="14.1" fill="#585858" text-anchor="start" font-weight="normal" transform="rotate(-90 153.5 1054)" stroke="#fff" stroke-width="0.35">R2</text>
<text x="181.5" y="1053" font-family="Liberation Sans, Arial, sans-serif" font-size="13.9" fill="#585858" text-anchor="start" font-weight="normal" transform="rotate(-90 181.5 1053)" stroke="#fff" stroke-width="0.35">10k</text>
<text x="187.8" y="1093" font-family="Liberation Sans, Arial, sans-serif" font-size="14.5" fill="#585858" text-anchor="start" font-weight="normal" transform="rotate(-90 187.8 1093)" stroke="#fff" stroke-width="0.35">VCC</text>
<polyline points="284,867 314,867" stroke="#800000" stroke-width="2" fill="none" stroke-linejoin="round" shape-rendering="crispEdges" />
<polyline points="314,867 389,867" stroke="#008000" stroke-width="2" fill="none" stroke-linejoin="round" shape-rendering="crispEdges" />
<polyline points="389,867 404,867" stroke="#800000" stroke-width="2" fill="none" stroke-linejoin="round" shape-rendering="crispEdges" />
<text x="296" y="864" font-family="Liberation Sans, Arial, sans-serif" font-size="12.5" fill="#585858" text-anchor="start" font-weight="normal" stroke="#fff" stroke-width="0.2">15</text>
<text x="269.5" y="871.3" font-family="Liberation Sans, Arial, sans-serif" font-size="12.5" fill="#585858" text-anchor="end" font-weight="normal" stroke="#fff" stroke-width="0.2">QA</text>
<text x="358.5" y="866" font-family="Liberation Sans, Arial, sans-serif" font-size="14.5" fill="#585858" text-anchor="start" font-weight="normal" stroke="#fff" stroke-width="0.35">M3A</text>
<text x="400.3" y="864.2" font-family="Liberation Sans, Arial, sans-serif" font-size="12.5" fill="#585858" text-anchor="end" font-weight="normal" stroke="#fff" stroke-width="0.2">7</text>
<polyline points="404,860 432,860" stroke="#800000" stroke-width="2" fill="none" stroke-linejoin="round" shape-rendering="crispEdges" />
<text x="406.2" y="870.5" font-family="Liberation Sans, Arial, sans-serif" font-size="14.1" fill="#585858" text-anchor="start" font-weight="normal" stroke="#fff" stroke-width="0.35">RN1-6</text>
<polyline points="284,882 314,882" stroke="#800000" stroke-width="2" fill="none" stroke-linejoin="round" shape-rendering="crispEdges" />
<polyline points="314,882 389,882" stroke="#008000" stroke-width="2" fill="none" stroke-linejoin="round" shape-rendering="crispEdges" />
<polyline points="389,882 404,882" stroke="#800000" stroke-width="2" fill="none" stroke-linejoin="round" shape-rendering="crispEdges" />
<text x="296" y="879" font-family="Liberation Sans, Arial, sans-serif" font-size="12.5" fill="#585858" text-anchor="start" font-weight="normal" stroke="#fff" stroke-width="0.2">1</text>
<text x="269.5" y="886.3" font-family="Liberation Sans, Arial, sans-serif" font-size="12.5" fill="#585858" text-anchor="end" font-weight="normal" stroke="#fff" stroke-width="0.2">QB</text>
<text x="358.5" y="881" font-family="Liberation Sans, Arial, sans-serif" font-size="14.5" fill="#585858" text-anchor="start" font-weight="normal" stroke="#fff" stroke-width="0.35">M2A</text>
<text x="400.3" y="879.2" font-family="Liberation Sans, Arial, sans-serif" font-size="12.5" fill="#585858" text-anchor="end" font-weight="normal" stroke="#fff" stroke-width="0.2">5</text>
<polyline points="404,875 432,875" stroke="#800000" stroke-width="2" fill="none" stroke-linejoin="round" shape-rendering="crispEdges" />
<text x="406.2" y="885.5" font-family="Liberation Sans, Arial, sans-serif" font-size="14.1" fill="#585858" text-anchor="start" font-weight="normal" stroke="#fff" stroke-width="0.35">RN1-4</text>
<polyline points="284,897 314,897" stroke="#800000" stroke-width="2" fill="none" stroke-linejoin="round" shape-rendering="crispEdges" />
<polyline points="314,897 389,897" stroke="#008000" stroke-width="2" fill="none" stroke-linejoin="round" shape-rendering="crispEdges" />
<polyline points="389,897 404,897" stroke="#800000" stroke-width="2" fill="none" stroke-linejoin="round" shape-rendering="crispEdges" />
<text x="296" y="894" font-family="Liberation Sans, Arial, sans-serif" font-size="12.5" fill="#585858" text-anchor="start" font-weight="normal" stroke="#fff" stroke-width="0.2">2</text>
<text x="269.5" y="901.3" font-family="Liberation Sans, Arial, sans-serif" font-size="12.5" fill="#585858" text-anchor="end" font-weight="normal" stroke="#fff" stroke-width="0.2">QC</text>
<text x="358.5" y="896" font-family="Liberation Sans, Arial, sans-serif" font-size="14.5" fill="#585858" text-anchor="start" font-weight="normal" stroke="#fff" stroke-width="0.35">M1A</text>
<text x="400.3" y="894.2" font-family="Liberation Sans, Arial, sans-serif" font-size="12.5" fill="#585858" text-anchor="end" font-weight="normal" stroke="#fff" stroke-width="0.2">4</text>
<polyline points="404,890 432,890" stroke="#800000" stroke-width="2" fill="none" stroke-linejoin="round" shape-rendering="crispEdges" />
<text x="406.2" y="900.5" font-family="Liberation Sans, Arial, sans-serif" font-size="14.1" fill="#585858" text-anchor="start" font-weight="normal" stroke="#fff" stroke-width="0.35">RN1-3</text>
<polyline points="284,912 314,912" stroke="#800000" stroke-width="2" fill="none" stroke-linejoin="round" shape-rendering="crispEdges" />
<polyline points="314,912 389,912" stroke="#008000" stroke-width="2" fill="none" stroke-linejoin="round" shape-rendering="crispEdges" />
<polyline points="389,912 404,912" stroke="#800000" stroke-width="2" fill="none" stroke-linejoin="round" shape-rendering="crispEdges" />
<text x="296" y="909" font-family="Liberation Sans, Arial, sans-serif" font-size="12.5" fill="#585858" text-anchor="start" font-weight="normal" stroke="#fff" stroke-width="0.2">3</text>
<text x="269.5" y="916.3" font-family="Liberation Sans, Arial, sans-serif" font-size="12.5" fill="#585858" text-anchor="end" font-weight="normal" stroke="#fff" stroke-width="0.2">QD</text>
<text x="358.5" y="911" font-family="Liberation Sans, Arial, sans-serif" font-size="14.5" fill="#585858" text-anchor="start" font-weight="normal" stroke="#fff" stroke-width="0.35">M1B</text>
<text x="400.3" y="909.2" font-family="Liberation Sans, Arial, sans-serif" font-size="12.5" fill="#585858" text-anchor="end" font-weight="normal" stroke="#fff" stroke-width="0.2">3</text>
<polyline points="404,905 432,905" stroke="#800000" stroke-width="2" fill="none" stroke-linejoin="round" shape-rendering="crispEdges" />
<text x="406.2" y="915.5" font-family="Liberation Sans, Arial, sans-serif" font-size="14.1" fill="#585858" text-anchor="start" font-weight="normal" stroke="#fff" stroke-width="0.35">RN1-2</text>
<polyline points="284,927 314,927" stroke="#800000" stroke-width="2" fill="none" stroke-linejoin="round" shape-rendering="crispEdges" />
<polyline points="314,927 389,927" stroke="#008000" stroke-width="2" fill="none" stroke-linejoin="round" shape-rendering="crispEdges" />
<polyline points="389,927 404,927" stroke="#800000" stroke-width="2" fill="none" stroke-linejoin="round" shape-rendering="crispEdges" />
<text x="296" y="924" font-family="Liberation Sans, Arial, sans-serif" font-size="12.5" fill="#585858" text-anchor="start" font-weight="normal" stroke="#fff" stroke-width="0.2">4</text>
<text x="269.5" y="931.3" font-family="Liberation Sans, Arial, sans-serif" font-size="12.5" fill="#585858" text-anchor="end" font-weight="normal" stroke="#fff" stroke-width="0.2">QE</text>
<text x="358.5" y="926" font-family="Liberation Sans, Arial, sans-serif" font-size="14.5" fill="#585858" text-anchor="start" font-weight="normal" stroke="#fff" stroke-width="0.35">M2B</text>
<text x="400.3" y="924.2" font-family="Liberation Sans, Arial, sans-serif" font-size="12.5" fill="#585858" text-anchor="end" font-weight="normal" stroke="#fff" stroke-width="0.2">2</text>
<polyline points="404,920 432,920" stroke="#800000" stroke-width="2" fill="none" stroke-linejoin="round" shape-rendering="crispEdges" />
<text x="406.2" y="930.5" font-family="Liberation Sans, Arial, sans-serif" font-size="14.1" fill="#585858" text-anchor="start" font-weight="normal" stroke="#fff" stroke-width="0.35">RN1-1</text>
<polyline points="284,942 314,942" stroke="#800000" stroke-width="2" fill="none" stroke-linejoin="round" shape-rendering="crispEdges" />
<polyline points="314,942 389,942" stroke="#008000" stroke-width="2" fill="none" stroke-linejoin="round" shape-rendering="crispEdges" />
<polyline points="389,942 404,942" stroke="#800000" stroke-width="2" fill="none" stroke-linejoin="round" shape-rendering="crispEdges" />
<text x="296" y="939" font-family="Liberation Sans, Arial, sans-serif" font-size="12.5" fill="#585858" text-anchor="start" font-weight="normal" stroke="#fff" stroke-width="0.2">5</text>
<text x="269.5" y="946.3" font-family="Liberation Sans, Arial, sans-serif" font-size="12.5" fill="#585858" text-anchor="end" font-weight="normal" stroke="#fff" stroke-width="0.2">QF</text>
<text x="358.5" y="941" font-family="Liberation Sans, Arial, sans-serif" font-size="14.5" fill="#585858" text-anchor="start" font-weight="normal" stroke="#fff" stroke-width="0.35">M4A</text>
<text x="400.3" y="939.2" font-family="Liberation Sans, Arial, sans-serif" font-size="12.5" fill="#585858" text-anchor="end" font-weight="normal" stroke="#fff" stroke-width="0.2">6</text>
<polyline points="404,935 432,935" stroke="#800000" stroke-width="2" fill="none" stroke-linejoin="round" shape-rendering="crispEdges" />
<text x="406.2" y="945.5" font-family="Liberation Sans, Arial, sans-serif" font-size="14.1" fill="#585858" text-anchor="start" font-weight="normal" stroke="#fff" stroke-width="0.35">RN1-5</text>
<polyline points="284,957 314,957" stroke="#800000" stroke-width="2" fill="none" stroke-linejoin="round" shape-rendering="crispEdges" />
<polyline points="314,957 389,957" stroke="#008000" stroke-width="2" fill="none" stroke-linejoin="round" shape-rendering="crispEdges" />
<polyline points="389,957 404,957" stroke="#800000" stroke-width="2" fill="none" stroke-linejoin="round" shape-rendering="crispEdges" />
<text x="296" y="954" font-family="Liberation Sans, Arial, sans-serif" font-size="12.5" fill="#585858" text-anchor="start" font-weight="normal" stroke="#fff" stroke-width="0.2">6</text>
<text x="269.5" y="961.3" font-family="Liberation Sans, Arial, sans-serif" font-size="12.5" fill="#585858" text-anchor="end" font-weight="normal" stroke="#fff" stroke-width="0.2">QG</text>
<text x="358.5" y="956" font-family="Liberation Sans, Arial, sans-serif" font-size="14.5" fill="#585858" text-anchor="start" font-weight="normal" stroke="#fff" stroke-width="0.35">M3B</text>
<text x="400.3" y="954.2" font-family="Liberation Sans, Arial, sans-serif" font-size="12.5" fill="#585858" text-anchor="end" font-weight="normal" stroke="#fff" stroke-width="0.2">8</text>
<polyline points="404,950 432,950" stroke="#800000" stroke-width="2" fill="none" stroke-linejoin="round" shape-rendering="crispEdges" />
<text x="406.2" y="960.5" font-family="Liberation Sans, Arial, sans-serif" font-size="14.1" fill="#585858" text-anchor="start" font-weight="normal" stroke="#fff" stroke-width="0.35">RN1-7</text>
<polyline points="284,972 314,972" stroke="#800000" stroke-width="2" fill="none" stroke-linejoin="round" shape-rendering="crispEdges" />
<polyline points="314,972 389,972" stroke="#008000" stroke-width="2" fill="none" stroke-linejoin="round" shape-rendering="crispEdges" />
<polyline points="389,972 404,972" stroke="#800000" stroke-width="2" fill="none" stroke-linejoin="round" shape-rendering="crispEdges" />
<text x="296" y="969" font-family="Liberation Sans, Arial, sans-serif" font-size="12.5" fill="#585858" text-anchor="start" font-weight="normal" stroke="#fff" stroke-width="0.2">7</text>
<text x="269.5" y="976.3" font-family="Liberation Sans, Arial, sans-serif" font-size="12.5" fill="#585858" text-anchor="end" font-weight="normal" stroke="#fff" stroke-width="0.2">QH</text>
<text x="358.5" y="971" font-family="Liberation Sans, Arial, sans-serif" font-size="14.5" fill="#585858" text-anchor="start" font-weight="normal" stroke="#fff" stroke-width="0.35">M4B</text>
<text x="400.3" y="969.2" font-family="Liberation Sans, Arial, sans-serif" font-size="12.5" fill="#585858" text-anchor="end" font-weight="normal" stroke="#fff" stroke-width="0.2">10</text>
<polyline points="404,965 432,965" stroke="#800000" stroke-width="2" fill="none" stroke-linejoin="round" shape-rendering="crispEdges" />
<text x="406.2" y="975.5" font-family="Liberation Sans, Arial, sans-serif" font-size="14.1" fill="#585858" text-anchor="start" font-weight="normal" stroke="#fff" stroke-width="0.35">RN1-9</text>
<polyline points="404,860 404,980 424,980" stroke="#800000" stroke-width="2" fill="none" stroke-linejoin="round" shape-rendering="crispEdges" />
<polyline points="284,1002 314,1002" stroke="#800000" stroke-width="2" fill="none" stroke-linejoin="round" shape-rendering="crispEdges" />
<text x="296" y="999" font-family="Liberation Sans, Arial, sans-serif" font-size="12.5" fill="#585858" text-anchor="start" font-weight="normal" stroke="#fff" stroke-width="0.2">9</text>
<text x="269.5" y="1006.3" font-family="Liberation Sans, Arial, sans-serif" font-size="12.5" fill="#585858" text-anchor="end" font-weight="normal" stroke="#fff" stroke-width="0.2">QH*</text>
<text x="467" y="1013.8" font-family="Liberation Sans, Arial, sans-serif" font-size="14.6" fill="#585858" text-anchor="start" font-weight="normal" transform="rotate(-90 467 1013.8)" stroke="#fff" stroke-width="0.35">RN1_</text>
<polyline points="456,998 456,1017 471,1017 471,1005" stroke="#800000" stroke-width="2" fill="none" stroke-linejoin="round" shape-rendering="crispEdges" />
<polyline points="463,1017 463,1032" stroke="#800000" stroke-width="2" fill="none" stroke-linejoin="round" shape-rendering="crispEdges" />
<g transform="translate(463 1032) rotate(0)">
<polyline points="0,0 0,15" stroke="#800000" stroke-width="2" fill="none" stroke-linejoin="round" shape-rendering="crispEdges" />
<polyline points="-12,15 12,15" stroke="#800000" stroke-width="2" fill="none" stroke-linejoin="round" shape-rendering="crispEdges" />
</g>
<text x="458.5" y="1026" font-family="Liberation Sans, Arial, sans-serif" font-size="12.5" fill="#585858" text-anchor="start" font-weight="normal" transform="rotate(-90 458.5 1026)" stroke="#fff" stroke-width="0.2">1</text>
<text x="447.2" y="1061" font-family="Liberation Sans, Arial, sans-serif" font-size="14.1" fill="#585858" text-anchor="start" font-weight="normal" stroke="#fff" stroke-width="0.35">GND</text>
<g transform="translate(523 882) rotate(0)">
<polyline points="0,0 0,-15" stroke="#800000" stroke-width="2" fill="none" stroke-linejoin="round" shape-rendering="crispEdges" />
<polyline points="-7.7,-3.2 0,-15 7.7,-3.2" stroke="#800000" stroke-width="2" fill="none" stroke-linejoin="round" shape-rendering="crispEdges" />
</g>
<polyline points="523,882 523,913" stroke="#800000" stroke-width="2" fill="none" stroke-linejoin="round" shape-rendering="crispEdges" />
<polyline points="523,882 553,882 568,897 568,912" stroke="#008000" stroke-width="2" fill="none" stroke-linejoin="round" shape-rendering="crispEdges" />
<g transform="translate(568 927) rotate(0)">
<polyline points="0,-15 0,0" stroke="#800000" stroke-width="2" fill="none" stroke-linejoin="round" shape-rendering="crispEdges" />
<polyline points="-16,0 16,0" stroke="#800000" stroke-width="2" fill="none" stroke-linejoin="round" shape-rendering="crispEdges" />
<polyline points="0,5 0,30" stroke="#800000" stroke-width="2" fill="none" stroke-linejoin="round" shape-rendering="crispEdges" />
<path d="M-15,11 A21.75,21.75 0 0 1 15,11" stroke="#800000" stroke-width="2.4" fill="none" shape-rendering="crispEdges"/>
</g>
<polyline points="568,957 553,972 523,972" stroke="#008000" stroke-width="2" fill="none" stroke-linejoin="round" shape-rendering="crispEdges" />
<circle cx="522.5" cy="881.5" r="3.5" fill="#008000"/>
<circle cx="522.5" cy="971.5" r="3.5" fill="#008000"/>
<polyline points="523,941 523,972" stroke="#800000" stroke-width="2" fill="none" stroke-linejoin="round" shape-rendering="crispEdges" />
<g transform="translate(523 972) rotate(0)">
<polyline points="0,0 0,15" stroke="#800000" stroke-width="2" fill="none" stroke-linejoin="round" shape-rendering="crispEdges" />
<polyline points="-12,15 12,15" stroke="#800000" stroke-width="2" fill="none" stroke-linejoin="round" shape-rendering="crispEdges" />
</g>
<text x="506.5" y="882.5" font-family="Liberation Sans, Arial, sans-serif" font-size="14.5" fill="#585858" text-anchor="start" font-weight="normal" transform="rotate(-90 506.5 882.5)" stroke="#fff" stroke-width="0.35">VCC</text>
<text x="518.8" y="898" font-family="Liberation Sans, Arial, sans-serif" font-size="12.5" fill="#585858" text-anchor="start" font-weight="normal" transform="rotate(-90 518.8 898)" stroke="#fff" stroke-width="0.2">16</text>
<text x="518.8" y="963.7" font-family="Liberation Sans, Arial, sans-serif" font-size="12.5" fill="#585858" text-anchor="start" font-weight="normal" transform="rotate(-90 518.8 963.7)" stroke="#fff" stroke-width="0.2">8</text>
<text x="534.3" y="913" font-family="Liberation Sans, Arial, sans-serif" font-size="10.6" fill="#585858" text-anchor="start" font-weight="normal" transform="rotate(-90 534.3 913)" stroke="#fff" stroke-width="0.12">VCC</text>
<text x="534.3" y="962.5" font-family="Liberation Sans, Arial, sans-serif" font-size="10.4" fill="#585858" text-anchor="start" font-weight="normal" transform="rotate(-90 534.3 962.5)" stroke="#fff" stroke-width="0.12">GND</text>
<text x="518.8" y="930" font-family="Liberation Sans, Arial, sans-serif" font-size="14.4" fill="#585858" text-anchor="start" font-weight="normal" stroke="#fff" stroke-width="0.35">IC3P</text>
<text x="574" y="922" font-family="Liberation Sans, Arial, sans-serif" font-size="14.1" fill="#585858" text-anchor="start" font-weight="normal" stroke="#fff" stroke-width="0.35">C2</text>
<text x="574" y="951" font-family="Liberation Sans, Arial, sans-serif" font-size="13.9" fill="#585858" text-anchor="start" font-weight="normal" stroke="#fff" stroke-width="0.35">0.1uF</text>
<text x="508" y="1000.5" font-family="Liberation Sans, Arial, sans-serif" font-size="14.1" fill="#585858" text-anchor="start" font-weight="normal" stroke="#fff" stroke-width="0.35">GND</text>
<g transform="translate(718 867) rotate(0)">
<polyline points="0,0 0,-16" stroke="#800000" stroke-width="2" fill="none" stroke-linejoin="round" shape-rendering="crispEdges" />
<polyline points="-5.5,-6.5 5.5,-6.5 0,-16 -5.5,-6.5" stroke="#800000" stroke-width="2" fill="none" stroke-linejoin="round" shape-rendering="crispEdges" />
</g>
<polyline points="718,867 718,882" stroke="#008000" stroke-width="2" fill="none" stroke-linejoin="round" shape-rendering="crispEdges" />
<polyline points="718,882 718,897" stroke="#800000" stroke-width="2" fill="none" stroke-linejoin="round" shape-rendering="crispEdges" />
<g transform="translate(718 912) rotate(90)">
<polyline points="-15,0 -12.75,-5.8 -9,5.8 -5.25,-5.8 -1.5,5.8 2.25,-5.8 6,5.8 9.75,-5.8 13.5,5.8 15,0" stroke="#800000" stroke-width="2.3" fill="none" stroke-linejoin="round" />
</g>
<polyline points="718,927 718,987" stroke="#800000" stroke-width="2" fill="none" stroke-linejoin="round" shape-rendering="crispEdges" />
<polyline points="711,957 726,957 718,972 711,957" stroke="#800000" stroke-width="2" fill="none" stroke-linejoin="round" shape-rendering="crispEdges" />
<polyline points="711,972 726,972" stroke="#800000" stroke-width="2" fill="none" stroke-linejoin="round" shape-rendering="crispEdges" />
<polyline points="718,987 718,1002" stroke="#008000" stroke-width="2" fill="none" stroke-linejoin="round" shape-rendering="crispEdges" />
<g transform="translate(718 1002) rotate(0)">
<polyline points="0,0 0,15" stroke="#800000" stroke-width="2" fill="none" stroke-linejoin="round" shape-rendering="crispEdges" />
<polyline points="-12,15 12,15" stroke="#800000" stroke-width="2" fill="none" stroke-linejoin="round" shape-rendering="crispEdges" />
</g>
<polyline points="707,961.5 700,968.8" stroke="#800000" stroke-width="2" fill="none" stroke-linejoin="round" />
<polygon points="697.3,971.8 704.8,969.3 699.8,964.6" fill="#800000"/>
<polyline points="707,968 700,975.3" stroke="#800000" stroke-width="2" fill="none" stroke-linejoin="round" />
<polygon points="697.3,978.3 704.8,975.8 699.8,971.1" fill="#800000"/>
<text x="700.5" y="867" font-family="Liberation Sans, Arial, sans-serif" font-size="14.5" fill="#585858" text-anchor="start" font-weight="normal" transform="rotate(-90 700.5 867)" stroke="#fff" stroke-width="0.35">V+</text>
<text x="707.5" y="935" font-family="Liberation Sans, Arial, sans-serif" font-size="14.1" fill="#585858" text-anchor="start" font-weight="normal" transform="rotate(-90 707.5 935)" stroke="#fff" stroke-width="0.35">R1</text>
<text x="737.8" y="984.3" font-family="Liberation Sans, Arial, sans-serif" font-size="14.1" fill="#585858" text-anchor="start" font-weight="normal" transform="rotate(-90 737.8 984.3)" stroke="#fff" stroke-width="0.35">LED1</text>
<text x="702.5" y="1031" font-family="Liberation Sans, Arial, sans-serif" font-size="14.1" fill="#585858" text-anchor="start" font-weight="normal" stroke="#fff" stroke-width="0.35">GND</text>
<rect x="868" y="882" width="599" height="210" stroke="#800000" stroke-width="2" fill="none" shape-rendering="crispEdges" class="b"/>
<polyline points="868,957 1467,957" stroke="#800000" stroke-width="2" fill="none" stroke-linejoin="round" shape-rendering="crispEdges" />
<polyline points="868,1002 1467,1002" stroke="#800000" stroke-width="2" fill="none" stroke-linejoin="round" shape-rendering="crispEdges" />
<polyline points="868,1062 1467,1062" stroke="#800000" stroke-width="2" fill="none" stroke-linejoin="round" shape-rendering="crispEdges" />
<polyline points="1385,1002 1385,1062" stroke="#800000" stroke-width="2" fill="none" stroke-linejoin="round" shape-rendering="crispEdges" />
<polyline points="1288,1062 1288,1092" stroke="#800000" stroke-width="2" fill="none" stroke-linejoin="round" shape-rendering="crispEdges" />
<text x="880.6" y="911" font-family="Liberation Sans, Arial, sans-serif" font-size="21.1" fill="#800000" text-anchor="start" font-weight="normal">Motor shield for Arduino</text>
<text x="880.6" y="940.5" font-family="Liberation Sans, Arial, sans-serif" font-size="21.05" fill="#800000" text-anchor="start" font-weight="normal">http://www.ladyada.net/make/mshield</text>
<text x="875" y="979.5" font-family="DejaVu Sans Mono, Liberation Mono, monospace" font-size="20.5" fill="#800000" text-anchor="start" font-weight="normal" textLength="75.5" lengthAdjust="spacingAndGlyphs" stroke="#800000" stroke-width="0.45">TITLE:</text>
<text x="971" y="979.5" font-family="DejaVu Sans Mono, Liberation Mono, monospace" font-size="20.5" fill="#800000" text-anchor="start" font-weight="normal" textLength="103.2" lengthAdjust="spacingAndGlyphs" stroke="#800000" stroke-width="0.45">mshield2</text>
<text x="874.5" y="1024.5" font-family="DejaVu Sans Mono, Liberation Mono, monospace" font-size="20.5" fill="#800000" text-anchor="start" font-weight="normal" textLength="107" lengthAdjust="spacingAndGlyphs" stroke="#800000" stroke-width="0.45">Document</text>
<text x="993" y="1024.5" font-family="DejaVu Sans Mono, Liberation Mono, monospace" font-size="20.5" fill="#800000" text-anchor="start" font-weight="normal" textLength="93.6" lengthAdjust="spacingAndGlyphs" stroke="#800000" stroke-width="0.45">Number:</text>
<text x="874.5" y="1085" font-family="DejaVu Sans Mono, Liberation Mono, monospace" font-size="20.5" fill="#800000" text-anchor="start" font-weight="normal" textLength="62.7" lengthAdjust="spacingAndGlyphs" stroke="#800000" stroke-width="0.45">Date:</text>
<text x="955" y="1085" font-family="DejaVu Sans Mono, Liberation Mono, monospace" font-size="20.5" fill="#800000" text-anchor="start" font-weight="normal" textLength="125" lengthAdjust="spacingAndGlyphs" stroke="#800000" stroke-width="0.45">2/02/2008</text>
<text x="1093.8" y="1085" font-family="DejaVu Sans Mono, Liberation Mono, monospace" font-size="20.5" fill="#800000" text-anchor="start" font-weight="normal" textLength="110.4" lengthAdjust="spacingAndGlyphs" stroke="#800000" stroke-width="0.45">07:15:32p</text>
<text x="1389.6" y="1024.5" font-family="DejaVu Sans Mono, Liberation Mono, monospace" font-size="20.5" fill="#800000" text-anchor="start" font-weight="normal" textLength="55.2" lengthAdjust="spacingAndGlyphs" stroke="#800000" stroke-width="0.45">REV:</text>
<text x="1294" y="1084.5" font-family="DejaVu Sans Mono, Liberation Mono, monospace" font-size="20.5" fill="#800000" text-anchor="start" font-weight="normal" textLength="75.5" lengthAdjust="spacingAndGlyphs" stroke="#800000" stroke-width="0.45">Sheet:</text>
<text x="1374.7" y="1084.5" font-family="DejaVu Sans Mono, Liberation Mono, monospace" font-size="20.5" fill="#800000" text-anchor="start" font-weight="normal" textLength="43.6" lengthAdjust="spacingAndGlyphs" stroke="#800000" stroke-width="0.45">1/1</text>
</svg></body></html>
